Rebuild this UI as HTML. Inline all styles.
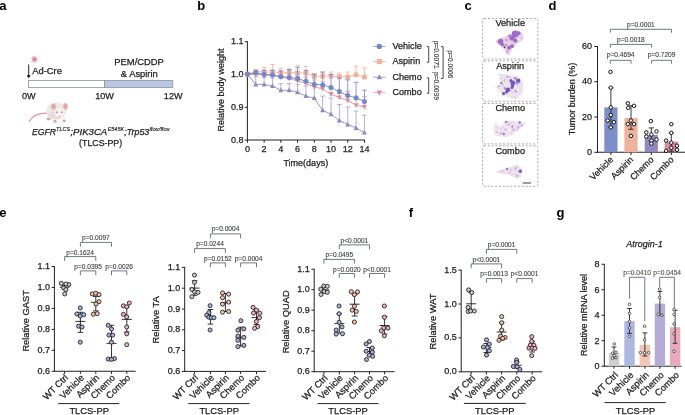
<!DOCTYPE html>
<html><head><meta charset="utf-8"><style>
html,body{margin:0;padding:0;background:#fff;}
body{width:685px;height:415px;overflow:hidden;}
svg{display:block;font-family:"Liberation Sans", sans-serif;will-change:transform;}
</style></head><body>
<svg width="685" height="415" viewBox="0 0 685 415">
<rect width="685" height="415" fill="#fff"/>
<text x="-0.8" y="9.7" font-size="13" text-anchor="start" font-weight="bold" font-style="normal" fill="#000" stroke="#000" stroke-width="0" >a</text>
<text x="197.3" y="9.9" font-size="13" text-anchor="start" font-weight="bold" font-style="normal" fill="#000" stroke="#000" stroke-width="0" >b</text>
<text x="464.4" y="9.8" font-size="13" text-anchor="start" font-weight="bold" font-style="normal" fill="#000" stroke="#000" stroke-width="0" >c</text>
<text x="548.5" y="9.8" font-size="13" text-anchor="start" font-weight="bold" font-style="normal" fill="#000" stroke="#000" stroke-width="0" >d</text>
<text x="-0.8" y="217.0" font-size="13" text-anchor="start" font-weight="bold" font-style="normal" fill="#000" stroke="#000" stroke-width="0" >e</text>
<text x="408.8" y="216.9" font-size="13" text-anchor="start" font-weight="bold" font-style="normal" fill="#000" stroke="#000" stroke-width="0" >f</text>
<text x="556.5" y="216.8" font-size="13" text-anchor="start" font-weight="bold" font-style="normal" fill="#000" stroke="#000" stroke-width="0" >g</text>
<g opacity="0.9">
<line x1="36.46" y1="59.80" x2="37.93" y2="60.10" stroke="#e89098" stroke-width="0.6"/>
<circle cx="38.13" cy="60.14" r="0.45" fill="#eaa0a6"/>
<line x1="35.61" y1="61.07" x2="36.43" y2="62.32" stroke="#e89098" stroke-width="0.6"/>
<circle cx="36.54" cy="62.48" r="0.45" fill="#eaa0a6"/>
<line x1="34.10" y1="61.36" x2="33.80" y2="62.83" stroke="#e89098" stroke-width="0.6"/>
<circle cx="33.76" cy="63.03" r="0.45" fill="#eaa0a6"/>
<line x1="32.83" y1="60.51" x2="31.58" y2="61.33" stroke="#e89098" stroke-width="0.6"/>
<circle cx="31.42" cy="61.44" r="0.45" fill="#eaa0a6"/>
<line x1="32.54" y1="59.00" x2="31.07" y2="58.70" stroke="#e89098" stroke-width="0.6"/>
<circle cx="30.87" cy="58.66" r="0.45" fill="#eaa0a6"/>
<line x1="33.39" y1="57.73" x2="32.57" y2="56.48" stroke="#e89098" stroke-width="0.6"/>
<circle cx="32.46" cy="56.32" r="0.45" fill="#eaa0a6"/>
<line x1="34.90" y1="57.44" x2="35.20" y2="55.97" stroke="#e89098" stroke-width="0.6"/>
<circle cx="35.24" cy="55.77" r="0.45" fill="#eaa0a6"/>
<line x1="36.17" y1="58.29" x2="37.42" y2="57.47" stroke="#e89098" stroke-width="0.6"/>
<circle cx="37.58" cy="57.36" r="0.45" fill="#eaa0a6"/>
<circle cx="34.5" cy="59.4" r="2.3" fill="#e07c84"/>
</g>
<line x1="28.7" y1="64.5" x2="28.7" y2="76" stroke="#111" stroke-width="0.9" />
<polygon points="26.7,75.2 30.7,75.2 28.7,78.2" fill="#111"/>
<text x="32.2" y="74" font-size="9.4" text-anchor="start" font-weight="normal" font-style="normal" fill="#222" stroke="#222" stroke-width="0.25" >Ad-Cre</text>
<rect x="28.5" y="80.5" width="76" height="7" fill="#fff" stroke="#8a949e" stroke-width="0.8"/>
<rect x="104.5" y="80.5" width="68.3" height="7" fill="#bac6e2" stroke="#8a949e" stroke-width="0.8"/>
<text x="139.1" y="64.5" font-size="9.4" text-anchor="middle" font-weight="normal" font-style="normal" fill="#222" stroke="#222" stroke-width="0.25" >PEM/CDDP</text>
<text x="139.3" y="77" font-size="9.4" text-anchor="middle" font-weight="normal" font-style="normal" fill="#222" stroke="#222" stroke-width="0.25" >&amp; Aspirin</text>
<text x="28.7" y="99.2" font-size="9.1" text-anchor="middle" font-weight="normal" font-style="normal" fill="#222" stroke="#222" stroke-width="0.25" >0W</text>
<text x="104.6" y="99.2" font-size="9.1" text-anchor="middle" font-weight="normal" font-style="normal" fill="#222" stroke="#222" stroke-width="0.25" >10W</text>
<text x="173.2" y="99.2" font-size="9.1" text-anchor="middle" font-weight="normal" font-style="normal" fill="#222" stroke="#222" stroke-width="0.25" >12W</text>
<path d="M47.5,113.2 C41,113.4 36,114.5 33.5,116.5 C31.5,118 30.2,119.8 29.4,121.6" fill="none" stroke="#e0989a" stroke-width="1.3" stroke-linecap="round"/>
<ellipse cx="48.6" cy="119" rx="1.9" ry="1.3" fill="#e0a0a0"/>
<ellipse cx="55" cy="121.2" rx="1.6" ry="1.5" fill="#e0a0a0"/>
<ellipse cx="64.3" cy="120.8" rx="1.7" ry="1.4" fill="#e0a0a0"/>
<ellipse cx="56.3" cy="111" rx="10.1" ry="8.6" fill="#ebe7e4"/>
<ellipse cx="55.5" cy="115.5" rx="8.5" ry="3.8" fill="#ddd5d1" opacity="0.6"/>
<ellipse cx="59.6" cy="112.5" rx="5.2" ry="5" fill="#f3f1f0"/>
<ellipse cx="53.5" cy="106.6" rx="2.6" ry="3.4" fill="#e3a4a4" stroke="#eee3e0" stroke-width="0.7"/>
<ellipse cx="65.4" cy="106.4" rx="2.5" ry="3.3" fill="#e3a4a4" stroke="#eee3e0" stroke-width="0.7"/>
<ellipse cx="56.9" cy="112.2" rx="1.1" ry="0.7" fill="#c98080"/>
<ellipse cx="61.9" cy="112.2" rx="1.1" ry="0.7" fill="#c98080"/>
<circle cx="59.3" cy="116.4" r="0.6" fill="#d89090"/>
<text x="32.0" y="134.6" font-size="8.6" font-style="italic" fill="#222" stroke="#222" stroke-width="0.25" textLength="23.9" lengthAdjust="spacingAndGlyphs">EGFR</text>
<text x="56.1" y="131.4" font-size="4.9" font-style="italic" fill="#222" stroke="#222" stroke-width="0.15" textLength="14.2" lengthAdjust="spacingAndGlyphs">TLCS</text>
<text x="70.4" y="134.6" font-size="8.6" font-style="italic" fill="#222" stroke="#222" stroke-width="0.25" textLength="36.9" lengthAdjust="spacingAndGlyphs">;PIK3CA</text>
<text x="107.7" y="131.4" font-size="4.9" font-style="italic" fill="#222" stroke="#222" stroke-width="0.15" textLength="16.4" lengthAdjust="spacingAndGlyphs">E545K</text>
<text x="124.3" y="134.6" font-size="8.6" font-style="italic" fill="#222" stroke="#222" stroke-width="0.25" textLength="25.0" lengthAdjust="spacingAndGlyphs">;Trp53</text>
<text x="149.4" y="131.4" font-size="4.9" font-style="italic" fill="#222" stroke="#222" stroke-width="0.15" textLength="20.4" lengthAdjust="spacingAndGlyphs">flox/flox</text>
<text x="100.6" y="146.0" font-size="8.8" text-anchor="middle" font-weight="normal" font-style="normal" fill="#222" stroke="#222" stroke-width="0.25" >(TLCS-PP)</text>
<line x1="247.4" y1="41.2" x2="247.4" y2="140.5" stroke="#222" stroke-width="1" />
<line x1="247.4" y1="140" x2="364.94" y2="140" stroke="#222" stroke-width="1.1" />
<line x1="244.8" y1="41.699999999999974" x2="247.4" y2="41.699999999999974" stroke="#222" stroke-width="1" />
<text x="243.4" y="44.199999999999974" font-size="9" text-anchor="end" font-weight="normal" font-style="normal" fill="#222" stroke="#222" stroke-width="0.25" >1.1</text>
<line x1="244.8" y1="74.5" x2="247.4" y2="74.5" stroke="#222" stroke-width="1" />
<text x="243.4" y="77.0" font-size="9" text-anchor="end" font-weight="normal" font-style="normal" fill="#222" stroke="#222" stroke-width="0.25" >1.0</text>
<line x1="244.8" y1="107.29999999999998" x2="247.4" y2="107.29999999999998" stroke="#222" stroke-width="1" />
<text x="243.4" y="109.79999999999998" font-size="9" text-anchor="end" font-weight="normal" font-style="normal" fill="#222" stroke="#222" stroke-width="0.25" >0.9</text>
<line x1="244.8" y1="140.09999999999997" x2="247.4" y2="140.09999999999997" stroke="#222" stroke-width="1" />
<text x="243.4" y="142.59999999999997" font-size="9" text-anchor="end" font-weight="normal" font-style="normal" fill="#222" stroke="#222" stroke-width="0.25" >0.8</text>
<line x1="247.4" y1="140" x2="247.4" y2="142.8" stroke="#222" stroke-width="1" />
<text x="247.4" y="151.8" font-size="9" text-anchor="middle" font-weight="normal" font-style="normal" fill="#222" stroke="#222" stroke-width="0.25" >0</text>
<line x1="264.12" y1="140" x2="264.12" y2="142.8" stroke="#222" stroke-width="1" />
<text x="264.12" y="151.8" font-size="9" text-anchor="middle" font-weight="normal" font-style="normal" fill="#222" stroke="#222" stroke-width="0.25" >2</text>
<line x1="280.84000000000003" y1="140" x2="280.84000000000003" y2="142.8" stroke="#222" stroke-width="1" />
<text x="280.84000000000003" y="151.8" font-size="9" text-anchor="middle" font-weight="normal" font-style="normal" fill="#222" stroke="#222" stroke-width="0.25" >4</text>
<line x1="297.56" y1="140" x2="297.56" y2="142.8" stroke="#222" stroke-width="1" />
<text x="297.56" y="151.8" font-size="9" text-anchor="middle" font-weight="normal" font-style="normal" fill="#222" stroke="#222" stroke-width="0.25" >6</text>
<line x1="314.28" y1="140" x2="314.28" y2="142.8" stroke="#222" stroke-width="1" />
<text x="314.28" y="151.8" font-size="9" text-anchor="middle" font-weight="normal" font-style="normal" fill="#222" stroke="#222" stroke-width="0.25" >8</text>
<line x1="331.0" y1="140" x2="331.0" y2="142.8" stroke="#222" stroke-width="1" />
<text x="331.0" y="151.8" font-size="9" text-anchor="middle" font-weight="normal" font-style="normal" fill="#222" stroke="#222" stroke-width="0.25" >10</text>
<line x1="347.72" y1="140" x2="347.72" y2="142.8" stroke="#222" stroke-width="1" />
<text x="347.72" y="151.8" font-size="9" text-anchor="middle" font-weight="normal" font-style="normal" fill="#222" stroke="#222" stroke-width="0.25" >12</text>
<line x1="364.44" y1="140" x2="364.44" y2="142.8" stroke="#222" stroke-width="1" />
<text x="364.44" y="151.8" font-size="9" text-anchor="middle" font-weight="normal" font-style="normal" fill="#222" stroke="#222" stroke-width="0.25" >14</text>
<text x="305.8" y="165.8" font-size="9" text-anchor="middle" font-weight="normal" font-style="normal" fill="#222" stroke="#222" stroke-width="0.25" >Time(days)</text>
<text transform="translate(223.6,89.9) rotate(-90)" font-size="9" text-anchor="middle" font-style="normal" fill="#222" stroke="#222" stroke-width="0.25">Relative body weight</text>
<line x1="255.76" y1="76.7" x2="255.76" y2="84.4" stroke="#aba5d5" stroke-width="0.9" />
<line x1="253.45999999999998" y1="76.7" x2="258.06" y2="76.7" stroke="#aba5d5" stroke-width="0.9" />
<line x1="264.12" y1="77.5" x2="264.12" y2="84.4" stroke="#aba5d5" stroke-width="0.9" />
<line x1="261.82" y1="77.5" x2="266.42" y2="77.5" stroke="#aba5d5" stroke-width="0.9" />
<line x1="272.48" y1="78.10000000000001" x2="272.48" y2="85.9" stroke="#aba5d5" stroke-width="0.9" />
<line x1="270.18" y1="78.10000000000001" x2="274.78000000000003" y2="78.10000000000001" stroke="#aba5d5" stroke-width="0.9" />
<line x1="280.84000000000003" y1="83.6" x2="280.84000000000003" y2="90.3" stroke="#aba5d5" stroke-width="0.9" />
<line x1="278.54" y1="83.6" x2="283.14000000000004" y2="83.6" stroke="#aba5d5" stroke-width="0.9" />
<line x1="289.2" y1="83.6" x2="289.2" y2="90.3" stroke="#aba5d5" stroke-width="0.9" />
<line x1="286.9" y1="83.6" x2="291.5" y2="83.6" stroke="#aba5d5" stroke-width="0.9" />
<line x1="297.56" y1="84.3" x2="297.56" y2="92.3" stroke="#aba5d5" stroke-width="0.9" />
<line x1="295.26" y1="84.3" x2="299.86" y2="84.3" stroke="#aba5d5" stroke-width="0.9" />
<line x1="305.92" y1="86.0" x2="305.92" y2="96.0" stroke="#aba5d5" stroke-width="0.9" />
<line x1="303.62" y1="86.0" x2="308.22" y2="86.0" stroke="#aba5d5" stroke-width="0.9" />
<line x1="314.28" y1="86.1" x2="314.28" y2="98.1" stroke="#aba5d5" stroke-width="0.9" />
<line x1="311.97999999999996" y1="86.1" x2="316.58" y2="86.1" stroke="#aba5d5" stroke-width="0.9" />
<line x1="322.64" y1="96.1" x2="322.64" y2="110.3" stroke="#aba5d5" stroke-width="0.9" />
<line x1="320.34" y1="96.1" x2="324.94" y2="96.1" stroke="#aba5d5" stroke-width="0.9" />
<line x1="331.0" y1="98.2" x2="331.0" y2="114.2" stroke="#aba5d5" stroke-width="0.9" />
<line x1="328.7" y1="98.2" x2="333.3" y2="98.2" stroke="#aba5d5" stroke-width="0.9" />
<line x1="339.36" y1="104.5" x2="339.36" y2="120.5" stroke="#aba5d5" stroke-width="0.9" />
<line x1="337.06" y1="104.5" x2="341.66" y2="104.5" stroke="#aba5d5" stroke-width="0.9" />
<line x1="347.72" y1="107.0" x2="347.72" y2="124.4" stroke="#aba5d5" stroke-width="0.9" />
<line x1="345.42" y1="107.0" x2="350.02000000000004" y2="107.0" stroke="#aba5d5" stroke-width="0.9" />
<line x1="356.08" y1="111.0" x2="356.08" y2="128.0" stroke="#aba5d5" stroke-width="0.9" />
<line x1="353.78" y1="111.0" x2="358.38" y2="111.0" stroke="#aba5d5" stroke-width="0.9" />
<line x1="364.44" y1="115.3" x2="364.44" y2="132.6" stroke="#aba5d5" stroke-width="0.9" />
<line x1="362.14" y1="115.3" x2="366.74" y2="115.3" stroke="#aba5d5" stroke-width="0.9" />
<polyline points="247.40,74.50 255.76,84.40 264.12,84.40 272.48,85.90 280.84,90.30 289.20,90.30 297.56,92.30 305.92,96.00 314.28,98.10 322.64,110.30 331.00,114.20 339.36,120.50 347.72,124.40 356.08,128.00 364.44,132.60" fill="none" stroke="#8f89c3" stroke-width="0.9"/>
<polygon points="244.90,76.50 249.90,76.50 247.40,71.75" fill="#8f89c3"/>
<polygon points="253.26,86.40 258.26,86.40 255.76,81.65" fill="#8f89c3"/>
<polygon points="261.62,86.40 266.62,86.40 264.12,81.65" fill="#8f89c3"/>
<polygon points="269.98,87.90 274.98,87.90 272.48,83.15" fill="#8f89c3"/>
<polygon points="278.34,92.30 283.34,92.30 280.84,87.55" fill="#8f89c3"/>
<polygon points="286.70,92.30 291.70,92.30 289.20,87.55" fill="#8f89c3"/>
<polygon points="295.06,94.30 300.06,94.30 297.56,89.55" fill="#8f89c3"/>
<polygon points="303.42,98.00 308.42,98.00 305.92,93.25" fill="#8f89c3"/>
<polygon points="311.78,100.10 316.78,100.10 314.28,95.35" fill="#8f89c3"/>
<polygon points="320.14,112.30 325.14,112.30 322.64,107.55" fill="#8f89c3"/>
<polygon points="328.50,116.20 333.50,116.20 331.00,111.45" fill="#8f89c3"/>
<polygon points="336.86,122.50 341.86,122.50 339.36,117.75" fill="#8f89c3"/>
<polygon points="345.22,126.40 350.22,126.40 347.72,121.65" fill="#8f89c3"/>
<polygon points="353.58,130.00 358.58,130.00 356.08,125.25" fill="#8f89c3"/>
<polygon points="361.94,134.60 366.94,134.60 364.44,129.85" fill="#8f89c3"/>
<line x1="255.76" y1="70.0" x2="255.76" y2="71.5" stroke="#f1b7a0" stroke-width="0.9" />
<line x1="253.45999999999998" y1="70.0" x2="258.06" y2="70.0" stroke="#f1b7a0" stroke-width="0.9" />
<line x1="264.12" y1="67.4" x2="264.12" y2="72.0" stroke="#f1b7a0" stroke-width="0.9" />
<line x1="261.82" y1="67.4" x2="266.42" y2="67.4" stroke="#f1b7a0" stroke-width="0.9" />
<line x1="272.48" y1="64.4" x2="272.48" y2="71.9" stroke="#f1b7a0" stroke-width="0.9" />
<line x1="270.18" y1="64.4" x2="274.78000000000003" y2="64.4" stroke="#f1b7a0" stroke-width="0.9" />
<line x1="280.84000000000003" y1="68.3" x2="280.84000000000003" y2="72.8" stroke="#f1b7a0" stroke-width="0.9" />
<line x1="278.54" y1="68.3" x2="283.14000000000004" y2="68.3" stroke="#f1b7a0" stroke-width="0.9" />
<line x1="289.2" y1="68.9" x2="289.2" y2="72.5" stroke="#f1b7a0" stroke-width="0.9" />
<line x1="286.9" y1="68.9" x2="291.5" y2="68.9" stroke="#f1b7a0" stroke-width="0.9" />
<line x1="297.56" y1="65.6" x2="297.56" y2="72.8" stroke="#f1b7a0" stroke-width="0.9" />
<line x1="295.26" y1="65.6" x2="299.86" y2="65.6" stroke="#f1b7a0" stroke-width="0.9" />
<line x1="305.92" y1="66.4" x2="305.92" y2="73.0" stroke="#f1b7a0" stroke-width="0.9" />
<line x1="303.62" y1="66.4" x2="308.22" y2="66.4" stroke="#f1b7a0" stroke-width="0.9" />
<line x1="314.28" y1="73.4" x2="314.28" y2="76.4" stroke="#f1b7a0" stroke-width="0.9" />
<line x1="311.97999999999996" y1="73.4" x2="316.58" y2="73.4" stroke="#f1b7a0" stroke-width="0.9" />
<line x1="322.64" y1="72.2" x2="322.64" y2="76.2" stroke="#f1b7a0" stroke-width="0.9" />
<line x1="320.34" y1="72.2" x2="324.94" y2="72.2" stroke="#f1b7a0" stroke-width="0.9" />
<line x1="331.0" y1="72.0" x2="331.0" y2="76.2" stroke="#f1b7a0" stroke-width="0.9" />
<line x1="328.7" y1="72.0" x2="333.3" y2="72.0" stroke="#f1b7a0" stroke-width="0.9" />
<line x1="339.36" y1="73.0" x2="339.36" y2="76.7" stroke="#f1b7a0" stroke-width="0.9" />
<line x1="337.06" y1="73.0" x2="341.66" y2="73.0" stroke="#f1b7a0" stroke-width="0.9" />
<line x1="347.72" y1="72.0" x2="347.72" y2="77.1" stroke="#f1b7a0" stroke-width="0.9" />
<line x1="345.42" y1="72.0" x2="350.02000000000004" y2="72.0" stroke="#f1b7a0" stroke-width="0.9" />
<line x1="356.08" y1="66.0" x2="356.08" y2="74.9" stroke="#f1b7a0" stroke-width="0.9" />
<line x1="353.78" y1="66.0" x2="358.38" y2="66.0" stroke="#f1b7a0" stroke-width="0.9" />
<line x1="364.44" y1="67.8" x2="364.44" y2="77.1" stroke="#f1b7a0" stroke-width="0.9" />
<line x1="362.14" y1="67.8" x2="366.74" y2="67.8" stroke="#f1b7a0" stroke-width="0.9" />
<polyline points="247.40,74.30 255.76,71.50 264.12,72.00 272.48,71.90 280.84,72.80 289.20,72.50 297.56,72.80 305.92,73.00 314.28,76.40 322.64,76.20 331.00,76.20 339.36,76.70 347.72,77.10 356.08,74.90 364.44,77.10" fill="none" stroke="#f0b29c" stroke-width="0.9"/>
<rect x="245.00" y="71.90" width="4.8" height="4.8" fill="#f0b29c"/>
<rect x="253.36" y="69.10" width="4.8" height="4.8" fill="#f0b29c"/>
<rect x="261.72" y="69.60" width="4.8" height="4.8" fill="#f0b29c"/>
<rect x="270.08" y="69.50" width="4.8" height="4.8" fill="#f0b29c"/>
<rect x="278.44" y="70.40" width="4.8" height="4.8" fill="#f0b29c"/>
<rect x="286.80" y="70.10" width="4.8" height="4.8" fill="#f0b29c"/>
<rect x="295.16" y="70.40" width="4.8" height="4.8" fill="#f0b29c"/>
<rect x="303.52" y="70.60" width="4.8" height="4.8" fill="#f0b29c"/>
<rect x="311.88" y="74.00" width="4.8" height="4.8" fill="#f0b29c"/>
<rect x="320.24" y="73.80" width="4.8" height="4.8" fill="#f0b29c"/>
<rect x="328.60" y="73.80" width="4.8" height="4.8" fill="#f0b29c"/>
<rect x="336.96" y="74.30" width="4.8" height="4.8" fill="#f0b29c"/>
<rect x="345.32" y="74.70" width="4.8" height="4.8" fill="#f0b29c"/>
<rect x="353.68" y="72.50" width="4.8" height="4.8" fill="#f0b29c"/>
<rect x="362.04" y="74.70" width="4.8" height="4.8" fill="#f0b29c"/>
<line x1="255.76" y1="72.9" x2="255.76" y2="74.4" stroke="#e8a4b3" stroke-width="0.9" />
<line x1="253.45999999999998" y1="72.9" x2="258.06" y2="72.9" stroke="#e8a4b3" stroke-width="0.9" />
<line x1="264.12" y1="72.8" x2="264.12" y2="74.8" stroke="#e8a4b3" stroke-width="0.9" />
<line x1="261.82" y1="72.8" x2="266.42" y2="72.8" stroke="#e8a4b3" stroke-width="0.9" />
<line x1="272.48" y1="73.0" x2="272.48" y2="75.5" stroke="#e8a4b3" stroke-width="0.9" />
<line x1="270.18" y1="73.0" x2="274.78000000000003" y2="73.0" stroke="#e8a4b3" stroke-width="0.9" />
<line x1="280.84000000000003" y1="74.0" x2="280.84000000000003" y2="77.0" stroke="#e8a4b3" stroke-width="0.9" />
<line x1="278.54" y1="74.0" x2="283.14000000000004" y2="74.0" stroke="#e8a4b3" stroke-width="0.9" />
<line x1="289.2" y1="74.5" x2="289.2" y2="78.5" stroke="#e8a4b3" stroke-width="0.9" />
<line x1="286.9" y1="74.5" x2="291.5" y2="74.5" stroke="#e8a4b3" stroke-width="0.9" />
<line x1="297.56" y1="75.9" x2="297.56" y2="80.9" stroke="#e8a4b3" stroke-width="0.9" />
<line x1="295.26" y1="75.9" x2="299.86" y2="75.9" stroke="#e8a4b3" stroke-width="0.9" />
<line x1="305.92" y1="77.3" x2="305.92" y2="83.3" stroke="#e8a4b3" stroke-width="0.9" />
<line x1="303.62" y1="77.3" x2="308.22" y2="77.3" stroke="#e8a4b3" stroke-width="0.9" />
<line x1="314.28" y1="80.0" x2="314.28" y2="87.0" stroke="#e8a4b3" stroke-width="0.9" />
<line x1="311.97999999999996" y1="80.0" x2="316.58" y2="80.0" stroke="#e8a4b3" stroke-width="0.9" />
<line x1="322.64" y1="81.8" x2="322.64" y2="88.8" stroke="#e8a4b3" stroke-width="0.9" />
<line x1="320.34" y1="81.8" x2="324.94" y2="81.8" stroke="#e8a4b3" stroke-width="0.9" />
<line x1="331.0" y1="86.8" x2="331.0" y2="94.3" stroke="#e8a4b3" stroke-width="0.9" />
<line x1="328.7" y1="86.8" x2="333.3" y2="86.8" stroke="#e8a4b3" stroke-width="0.9" />
<line x1="339.36" y1="89.7" x2="339.36" y2="97.5" stroke="#e8a4b3" stroke-width="0.9" />
<line x1="337.06" y1="89.7" x2="341.66" y2="89.7" stroke="#e8a4b3" stroke-width="0.9" />
<line x1="347.72" y1="91.60000000000001" x2="347.72" y2="100.4" stroke="#e8a4b3" stroke-width="0.9" />
<line x1="345.42" y1="91.60000000000001" x2="350.02000000000004" y2="91.60000000000001" stroke="#e8a4b3" stroke-width="0.9" />
<line x1="356.08" y1="96.2" x2="356.08" y2="105.2" stroke="#e8a4b3" stroke-width="0.9" />
<line x1="353.78" y1="96.2" x2="358.38" y2="96.2" stroke="#e8a4b3" stroke-width="0.9" />
<line x1="364.44" y1="96.7" x2="364.44" y2="107.0" stroke="#e8a4b3" stroke-width="0.9" />
<line x1="362.14" y1="96.7" x2="366.74" y2="96.7" stroke="#e8a4b3" stroke-width="0.9" />
<polyline points="247.40,74.50 255.76,74.40 264.12,74.80 272.48,75.50 280.84,77.00 289.20,78.50 297.56,80.90 305.92,83.30 314.28,87.00 322.64,88.80 331.00,94.30 339.36,97.50 347.72,100.40 356.08,105.20 364.44,107.00" fill="none" stroke="#dd8c9e" stroke-width="0.9"/>
<polygon points="244.90,72.50 249.90,72.50 247.40,77.25" fill="#dd8c9e"/>
<polygon points="253.26,72.40 258.26,72.40 255.76,77.15" fill="#dd8c9e"/>
<polygon points="261.62,72.80 266.62,72.80 264.12,77.55" fill="#dd8c9e"/>
<polygon points="269.98,73.50 274.98,73.50 272.48,78.25" fill="#dd8c9e"/>
<polygon points="278.34,75.00 283.34,75.00 280.84,79.75" fill="#dd8c9e"/>
<polygon points="286.70,76.50 291.70,76.50 289.20,81.25" fill="#dd8c9e"/>
<polygon points="295.06,78.90 300.06,78.90 297.56,83.65" fill="#dd8c9e"/>
<polygon points="303.42,81.30 308.42,81.30 305.92,86.05" fill="#dd8c9e"/>
<polygon points="311.78,85.00 316.78,85.00 314.28,89.75" fill="#dd8c9e"/>
<polygon points="320.14,86.80 325.14,86.80 322.64,91.55" fill="#dd8c9e"/>
<polygon points="328.50,92.30 333.50,92.30 331.00,97.05" fill="#dd8c9e"/>
<polygon points="336.86,95.50 341.86,95.50 339.36,100.25" fill="#dd8c9e"/>
<polygon points="345.22,98.40 350.22,98.40 347.72,103.15" fill="#dd8c9e"/>
<polygon points="353.58,103.20 358.58,103.20 356.08,107.95" fill="#dd8c9e"/>
<polygon points="361.94,105.00 366.94,105.00 364.44,109.75" fill="#dd8c9e"/>
<line x1="255.76" y1="70.8" x2="255.76" y2="72.8" stroke="#7d8dc9" stroke-width="0.9" />
<line x1="253.45999999999998" y1="70.8" x2="258.06" y2="70.8" stroke="#7d8dc9" stroke-width="0.9" />
<line x1="264.12" y1="70.30000000000001" x2="264.12" y2="74.4" stroke="#7d8dc9" stroke-width="0.9" />
<line x1="261.82" y1="70.30000000000001" x2="266.42" y2="70.30000000000001" stroke="#7d8dc9" stroke-width="0.9" />
<line x1="272.48" y1="70.30000000000001" x2="272.48" y2="74.9" stroke="#7d8dc9" stroke-width="0.9" />
<line x1="270.18" y1="70.30000000000001" x2="274.78000000000003" y2="70.30000000000001" stroke="#7d8dc9" stroke-width="0.9" />
<line x1="280.84000000000003" y1="71.0" x2="280.84000000000003" y2="76.7" stroke="#7d8dc9" stroke-width="0.9" />
<line x1="278.54" y1="71.0" x2="283.14000000000004" y2="71.0" stroke="#7d8dc9" stroke-width="0.9" />
<line x1="289.2" y1="69.5" x2="289.2" y2="77.5" stroke="#7d8dc9" stroke-width="0.9" />
<line x1="286.9" y1="69.5" x2="291.5" y2="69.5" stroke="#7d8dc9" stroke-width="0.9" />
<line x1="297.56" y1="67.4" x2="297.56" y2="78.5" stroke="#7d8dc9" stroke-width="0.9" />
<line x1="295.26" y1="67.4" x2="299.86" y2="67.4" stroke="#7d8dc9" stroke-width="0.9" />
<line x1="305.92" y1="70.39999999999999" x2="305.92" y2="81.3" stroke="#7d8dc9" stroke-width="0.9" />
<line x1="303.62" y1="70.39999999999999" x2="308.22" y2="70.39999999999999" stroke="#7d8dc9" stroke-width="0.9" />
<line x1="314.28" y1="74.3" x2="314.28" y2="84.3" stroke="#7d8dc9" stroke-width="0.9" />
<line x1="311.97999999999996" y1="74.3" x2="316.58" y2="74.3" stroke="#7d8dc9" stroke-width="0.9" />
<line x1="322.64" y1="72.0" x2="322.64" y2="84.9" stroke="#7d8dc9" stroke-width="0.9" />
<line x1="320.34" y1="72.0" x2="324.94" y2="72.0" stroke="#7d8dc9" stroke-width="0.9" />
<line x1="331.0" y1="74.5" x2="331.0" y2="87.5" stroke="#7d8dc9" stroke-width="0.9" />
<line x1="328.7" y1="74.5" x2="333.3" y2="74.5" stroke="#7d8dc9" stroke-width="0.9" />
<line x1="339.36" y1="78.0" x2="339.36" y2="91.8" stroke="#7d8dc9" stroke-width="0.9" />
<line x1="337.06" y1="78.0" x2="341.66" y2="78.0" stroke="#7d8dc9" stroke-width="0.9" />
<line x1="347.72" y1="79.9" x2="347.72" y2="95.5" stroke="#7d8dc9" stroke-width="0.9" />
<line x1="345.42" y1="79.9" x2="350.02000000000004" y2="79.9" stroke="#7d8dc9" stroke-width="0.9" />
<line x1="356.08" y1="82.30000000000001" x2="356.08" y2="97.9" stroke="#7d8dc9" stroke-width="0.9" />
<line x1="353.78" y1="82.30000000000001" x2="358.38" y2="82.30000000000001" stroke="#7d8dc9" stroke-width="0.9" />
<line x1="364.44" y1="90.1" x2="364.44" y2="101.6" stroke="#7d8dc9" stroke-width="0.9" />
<line x1="362.14" y1="90.1" x2="366.74" y2="90.1" stroke="#7d8dc9" stroke-width="0.9" />
<polyline points="247.40,74.00 255.76,72.80 264.12,74.40 272.48,74.90 280.84,76.70 289.20,77.50 297.56,78.50 305.92,81.30 314.28,84.30 322.64,84.90 331.00,87.50 339.36,91.80 347.72,95.50 356.08,97.90 364.44,101.60" fill="none" stroke="#7486c6" stroke-width="0.9"/>
<circle cx="247.40" cy="74.00" r="2.5" fill="#7486c6"/>
<circle cx="255.76" cy="72.80" r="2.5" fill="#7486c6"/>
<circle cx="264.12" cy="74.40" r="2.5" fill="#7486c6"/>
<circle cx="272.48" cy="74.90" r="2.5" fill="#7486c6"/>
<circle cx="280.84" cy="76.70" r="2.5" fill="#7486c6"/>
<circle cx="289.20" cy="77.50" r="2.5" fill="#7486c6"/>
<circle cx="297.56" cy="78.50" r="2.5" fill="#7486c6"/>
<circle cx="305.92" cy="81.30" r="2.5" fill="#7486c6"/>
<circle cx="314.28" cy="84.30" r="2.5" fill="#7486c6"/>
<circle cx="322.64" cy="84.90" r="2.5" fill="#7486c6"/>
<circle cx="331.00" cy="87.50" r="2.5" fill="#7486c6"/>
<circle cx="339.36" cy="91.80" r="2.5" fill="#7486c6"/>
<circle cx="347.72" cy="95.50" r="2.5" fill="#7486c6"/>
<circle cx="356.08" cy="97.90" r="2.5" fill="#7486c6"/>
<circle cx="364.44" cy="101.60" r="2.5" fill="#7486c6"/>
<line x1="372.9" y1="46.4" x2="385.6" y2="46.4" stroke="#9aa6d8" stroke-width="1.0" />
<circle cx="379.30" cy="46.40" r="2.6" fill="#7486c6"/>
<text x="392.4" y="49.0" font-size="9.1" text-anchor="start" font-weight="normal" font-style="normal" fill="#222" stroke="#222" stroke-width="0.25" >Vehicle</text>
<line x1="372.9" y1="61.5" x2="385.6" y2="61.5" stroke="#f2c0ac" stroke-width="1.0" />
<rect x="376.70" y="58.90" width="5.2" height="5.2" fill="#f0b29c"/>
<text x="392.4" y="64.1" font-size="9.1" text-anchor="start" font-weight="normal" font-style="normal" fill="#222" stroke="#222" stroke-width="0.25" >Aspirin</text>
<line x1="372.9" y1="77.2" x2="385.6" y2="77.2" stroke="#aaa4d6" stroke-width="1.0" />
<polygon points="376.60,79.36 382.00,79.36 379.30,74.23" fill="#8f89c3"/>
<text x="392.4" y="79.8" font-size="9.1" text-anchor="start" font-weight="normal" font-style="normal" fill="#222" stroke="#222" stroke-width="0.25" >Chemo</text>
<line x1="372.9" y1="92.7" x2="385.6" y2="92.7" stroke="#ecb0bf" stroke-width="1.0" />
<polygon points="376.60,90.54 382.00,90.54 379.30,95.67" fill="#dd8c9e"/>
<text x="392.4" y="95.3" font-size="9.1" text-anchor="start" font-weight="normal" font-style="normal" fill="#222" stroke="#222" stroke-width="0.25" >Combo</text>
<polyline points="426.7,46.6 428.7,46.6 428.7,62.2 426.7,62.2" fill="none" stroke="#333" stroke-width="0.9"/>
<polyline points="441.1,46.6 443.1,46.6 443.1,78.5 441.1,78.5" fill="none" stroke="#333" stroke-width="0.9"/>
<polyline points="426.7,77.9 428.7,77.9 428.7,93.3 426.7,93.3" fill="none" stroke="#333" stroke-width="0.9"/>
<text transform="translate(433.6,54.7) rotate(90)" font-size="6.7" text-anchor="middle" font-style="normal" fill="#333" stroke="#333" stroke-width="0.1">p=0.0071</text>
<text transform="translate(447.6,64.3) rotate(90)" font-size="6.7" text-anchor="middle" font-style="normal" fill="#333" stroke="#333" stroke-width="0.1">p=0.0006</text>
<text transform="translate(433.6,86.0) rotate(90)" font-size="6.7" text-anchor="middle" font-style="normal" fill="#333" stroke="#333" stroke-width="0.1">p=0.0039</text>
<rect x="482.6" y="18.5" width="55.2" height="40.5" rx="1.5" fill="none" stroke="#9a9a9a" stroke-width="0.8" stroke-dasharray="2.2,1.6"/>
<text x="510.2" y="26.0" font-size="9.2" text-anchor="middle" font-weight="normal" font-style="normal" fill="#222" stroke="#222" stroke-width="0.25" >Vehicle</text>
<rect x="482.6" y="60.8" width="55.2" height="40.5" rx="1.5" fill="none" stroke="#9a9a9a" stroke-width="0.8" stroke-dasharray="2.2,1.6"/>
<text x="510.2" y="68.6" font-size="9.2" text-anchor="middle" font-weight="normal" font-style="normal" fill="#222" stroke="#222" stroke-width="0.25" >Aspirin</text>
<rect x="482.6" y="103.4" width="55.2" height="40.5" rx="1.5" fill="none" stroke="#9a9a9a" stroke-width="0.8" stroke-dasharray="2.2,1.6"/>
<text x="510.2" y="111.2" font-size="9.2" text-anchor="middle" font-weight="normal" font-style="normal" fill="#222" stroke="#222" stroke-width="0.25" >Chemo</text>
<rect x="482.6" y="145.8" width="55.2" height="40.5" rx="1.5" fill="none" stroke="#9a9a9a" stroke-width="0.8" stroke-dasharray="2.2,1.6"/>
<text x="510.2" y="153.60000000000002" font-size="9.2" text-anchor="middle" font-weight="normal" font-style="normal" fill="#222" stroke="#222" stroke-width="0.25" >Combo</text>
<defs><filter id="bl" x="-20%" y="-20%" width="140%" height="140%"><feGaussianBlur stdDeviation="0.45"/></filter><filter id="bl2" x="-30%" y="-30%" width="160%" height="160%"><feGaussianBlur stdDeviation="0.6"/></filter></defs>
<g filter="url(#bl)">
<path d="M496.2,41.3 L499.7,38.6 L507.4,35.5 L513.6,32.4 L516.7,30.9 L519.4,31.2 L522.8,33.9 L523.6,38.6 L521.3,40.9 L517.4,43.2 L514.4,46.3 L511.3,50.1 L508.6,55.9 L504.3,49.4 L500.5,45.5 L497.4,43.6 Z" fill="#e8cde6"/>
</g><g filter="url(#bl2)">
<circle cx="502.7" cy="44.5" r="0.52" fill="#b07ccc"/>
<circle cx="509.2" cy="45.4" r="0.62" fill="#d8b8e0"/>
<circle cx="513.7" cy="34.7" r="0.64" fill="#b07ccc"/>
<circle cx="517.5" cy="34.9" r="0.78" fill="#c49ad6"/>
<circle cx="507.0" cy="50.9" r="0.55" fill="#c49ad6"/>
<circle cx="520.3" cy="33.3" r="0.41" fill="#c49ad6"/>
<circle cx="503.3" cy="47.7" r="0.70" fill="#d8b8e0"/>
<circle cx="507.7" cy="51.7" r="0.61" fill="#b07ccc"/>
<circle cx="512.2" cy="45.5" r="0.76" fill="#b07ccc"/>
<circle cx="503.9" cy="46.0" r="0.66" fill="#b07ccc"/>
<circle cx="515.8" cy="36.2" r="0.72" fill="#b07ccc"/>
<circle cx="509.4" cy="46.9" r="0.57" fill="#d8b8e0"/>
<circle cx="518.1" cy="41.2" r="0.42" fill="#d8b8e0"/>
<circle cx="507.9" cy="41.3" r="0.40" fill="#b07ccc"/>
<circle cx="515.9" cy="39.2" r="0.75" fill="#d8b8e0"/>
<circle cx="501.6" cy="41.1" r="0.62" fill="#c49ad6"/>
<circle cx="505.5" cy="39.9" r="0.41" fill="#d8b8e0"/>
<circle cx="506.5" cy="52.6" r="0.52" fill="#b07ccc"/>
<circle cx="514.9" cy="33.5" r="0.79" fill="#b07ccc"/>
<circle cx="503.6" cy="46.8" r="0.67" fill="#d8b8e0"/>
<circle cx="508.2" cy="37.4" r="0.49" fill="#d8b8e0"/>
<circle cx="496.5" cy="41.3" r="0.61" fill="#c49ad6"/>
<circle cx="506.5" cy="45.6" r="0.41" fill="#b07ccc"/>
<circle cx="513.4" cy="42.6" r="0.66" fill="#d8b8e0"/>
<circle cx="512.9" cy="37.9" r="0.57" fill="#b07ccc"/>
<circle cx="515.1" cy="34.0" r="3.4" fill="#9e6cc8"/>
<circle cx="518.5" cy="33.3" r="2.0" fill="#9e6cc8"/>
<circle cx="512.0" cy="38.0" r="2.6" fill="#9e6cc8"/>
<circle cx="515.3" cy="40.6" r="2.1" fill="#9e6cc8"/>
<circle cx="509.7" cy="35.9" r="1.7" fill="#b088d0"/>
<circle cx="500.5" cy="41.6" r="2.8" fill="#9e6cc8"/>
<circle cx="502.3" cy="44.6" r="1.8" fill="#9e6cc8"/>
<circle cx="505.9" cy="45.1" r="1.2" fill="#b088d0"/>
<circle cx="509.0" cy="47.8" r="2.0" fill="#9e6cc8"/>
<circle cx="512.0" cy="46.2" r="1.9" fill="#9e6cc8"/>
<circle cx="506.5" cy="40" r="1.1" fill="#b088d0"/>
<circle cx="518.2" cy="39.2" r="1.2" fill="#fbf6fb"/>
<circle cx="504.6" cy="47.4" r="0.8" fill="#333"/>
</g>
<g filter="url(#bl)">
<path d="M497,72.9 L507.4,74.4 L515.1,76.3 L519.8,77.9 L522.8,82.1 L523.2,89 L522.1,94.4 L519.8,95.2 L518.2,98.3 L511.3,99.1 L505.1,95.2 L501.3,92.9 L496.6,88.3 L495.1,87.5 L500.5,82.9 L499.7,77.5 Z" fill="#efe2ed"/>
</g><g filter="url(#bl2)">
<circle cx="512.6" cy="92.3" r="0.71" fill="#d8c8e4"/>
<circle cx="513.4" cy="86.8" r="0.73" fill="#c8b4dc"/>
<circle cx="513.3" cy="96.5" r="0.40" fill="#b8a0d4"/>
<circle cx="519.5" cy="82.9" r="0.40" fill="#c8b4dc"/>
<circle cx="516.6" cy="77.1" r="0.71" fill="#c8b4dc"/>
<circle cx="512.5" cy="84.6" r="0.41" fill="#c8b4dc"/>
<circle cx="501.0" cy="78.5" r="0.79" fill="#c8b4dc"/>
<circle cx="510.3" cy="90.7" r="0.44" fill="#d8c8e4"/>
<circle cx="502.5" cy="81.6" r="0.72" fill="#d8c8e4"/>
<circle cx="504.6" cy="81.0" r="0.72" fill="#b8a0d4"/>
<circle cx="514.7" cy="77.7" r="0.56" fill="#c8b4dc"/>
<circle cx="517.2" cy="82.5" r="0.61" fill="#c8b4dc"/>
<circle cx="507.8" cy="91.4" r="0.63" fill="#c8b4dc"/>
<circle cx="518.1" cy="85.0" r="0.58" fill="#d8c8e4"/>
<circle cx="502.2" cy="85.0" r="0.62" fill="#b8a0d4"/>
<circle cx="504.7" cy="88.9" r="0.76" fill="#b8a0d4"/>
<circle cx="502.8" cy="91.3" r="0.39" fill="#d8c8e4"/>
<circle cx="504.0" cy="77.5" r="0.39" fill="#c8b4dc"/>
<circle cx="515.4" cy="81.0" r="0.57" fill="#d8c8e4"/>
<circle cx="510.1" cy="83.5" r="0.46" fill="#d8c8e4"/>
<circle cx="504.8" cy="79.5" r="0.64" fill="#c8b4dc"/>
<circle cx="515.7" cy="97.8" r="0.63" fill="#b8a0d4"/>
<circle cx="503.4" cy="84.8" r="0.80" fill="#c8b4dc"/>
<circle cx="522.5" cy="84.8" r="0.57" fill="#d8c8e4"/>
<circle cx="504.0" cy="80.1" r="0.56" fill="#c8b4dc"/>
<circle cx="510.0" cy="77.6" r="0.77" fill="#b8a0d4"/>
<circle cx="500.2" cy="85.8" r="0.58" fill="#d8c8e4"/>
<circle cx="519.5" cy="82.4" r="0.70" fill="#b8a0d4"/>
<circle cx="514.6" cy="90.3" r="0.69" fill="#b8a0d4"/>
<circle cx="510.8" cy="90.4" r="0.73" fill="#b8a0d4"/>
<circle cx="507.8" cy="89.8" r="2.4" fill="#7457bd"/>
<circle cx="506.5" cy="92" r="1.5" fill="#7457bd"/>
<circle cx="512.8" cy="82.9" r="2.4" fill="#7457bd"/>
<circle cx="512.5" cy="85.5" r="1.7" fill="#7457bd"/>
<circle cx="518.2" cy="80.6" r="2.2" fill="#7457bd"/>
<circle cx="517" cy="83" r="1.5" fill="#9a84cc"/>
<circle cx="510.9" cy="80.6" r="1.5" fill="#7457bd"/>
<circle cx="503.6" cy="93.7" r="1.6" fill="#7457bd"/>
<circle cx="501.3" cy="82.9" r="1.2" fill="#9a84cc"/>
<circle cx="512" cy="87.5" r="1.5" fill="#7457bd"/>
<circle cx="515.1" cy="78.3" r="1.2" fill="#9a84cc"/>
<circle cx="507.4" cy="76.7" r="0.9" fill="#9a84cc"/>
<circle cx="515.9" cy="91.4" r="0.9" fill="#9a84cc"/>
<circle cx="504.5" cy="88" r="0.9" fill="#9a84cc"/>
<circle cx="498.5" cy="86.5" r="0.8" fill="#9a84cc"/>
</g>
<g filter="url(#bl)">
<path d="M494.7,123.4 L496.4,123.1 L498.8,126.1 L502.8,126.5 L504.2,121.4 L506.9,120.4 L510.2,120.7 L517,121.8 L519.7,121.4 L526.4,122.4 L523.7,126.1 L518.3,130.2 L513.6,132.9 L510.2,135.6 L506.2,137.6 L500.8,136.3 L495.4,135.6 L493.7,132.2 L493.7,127.5 Z" fill="#f0e2ee"/>
</g><g filter="url(#bl2)">
<circle cx="504.3" cy="123.0" r="0.64" fill="#d4c0e2"/>
<circle cx="520.6" cy="122.0" r="0.61" fill="#e0d0e8"/>
<circle cx="507.4" cy="124.5" r="0.60" fill="#d4c0e2"/>
<circle cx="520.7" cy="122.5" r="0.45" fill="#e0d0e8"/>
<circle cx="512.8" cy="121.5" r="0.61" fill="#d4c0e2"/>
<circle cx="521.8" cy="125.4" r="0.41" fill="#d4c0e2"/>
<circle cx="512.4" cy="130.0" r="0.66" fill="#d4c0e2"/>
<circle cx="512.7" cy="131.4" r="0.52" fill="#e0d0e8"/>
<circle cx="517.0" cy="130.1" r="0.63" fill="#c8b4dc"/>
<circle cx="515.9" cy="127.8" r="0.49" fill="#e0d0e8"/>
<circle cx="519.2" cy="121.8" r="0.49" fill="#c8b4dc"/>
<circle cx="497.6" cy="127.6" r="0.69" fill="#d4c0e2"/>
<circle cx="511.9" cy="134.0" r="0.72" fill="#c8b4dc"/>
<circle cx="516.4" cy="130.6" r="0.61" fill="#c8b4dc"/>
<circle cx="502.5" cy="132.4" r="0.38" fill="#e0d0e8"/>
<circle cx="503.0" cy="127.0" r="0.65" fill="#d4c0e2"/>
<circle cx="513.7" cy="128.9" r="0.45" fill="#c8b4dc"/>
<circle cx="506.5" cy="135.4" r="0.39" fill="#c8b4dc"/>
<circle cx="506.8" cy="125.2" r="0.41" fill="#c8b4dc"/>
<circle cx="522.0" cy="125.2" r="0.54" fill="#c8b4dc"/>
<circle cx="516.0" cy="126.9" r="0.45" fill="#d4c0e2"/>
<circle cx="501.3" cy="128.7" r="0.62" fill="#c8b4dc"/>
<circle cx="511.2" cy="130.9" r="0.49" fill="#d4c0e2"/>
<circle cx="516.3" cy="129.3" r="0.63" fill="#e0d0e8"/>
<circle cx="517.9" cy="128.3" r="0.74" fill="#e0d0e8"/>
<circle cx="519.8" cy="127.1" r="0.53" fill="#d4c0e2"/>
<circle cx="509.4" cy="127.3" r="0.44" fill="#d4c0e2"/>
<circle cx="508.1" cy="122.3" r="0.62" fill="#d4c0e2"/>
<circle cx="497.0" cy="126.7" r="0.36" fill="#d4c0e2"/>
<circle cx="513.8" cy="123.0" r="0.46" fill="#c8b4dc"/>
<circle cx="513.4" cy="128.6" r="0.40" fill="#c8b4dc"/>
<circle cx="509.5" cy="121.9" r="0.40" fill="#c8b4dc"/>
<circle cx="517.9" cy="128.6" r="0.66" fill="#e0d0e8"/>
<circle cx="511.0" cy="122.9" r="0.59" fill="#d4c0e2"/>
<circle cx="518.5" cy="125.5" r="0.64" fill="#d4c0e2"/>
<circle cx="506.2" cy="121.9" r="1.1" fill="#8e74c6"/>
<circle cx="519.7" cy="122.5" r="1.2" fill="#8e74c6"/>
<circle cx="503.8" cy="133.9" r="1.2" fill="#8e74c6"/>
<circle cx="512.3" cy="126.5" r="1.0" fill="#8e74c6"/>
<circle cx="508.9" cy="124.5" r="0.9" fill="#b8a4d8"/>
<circle cx="500.8" cy="133.2" r="1.0" fill="#b8a4d8"/>
<circle cx="521.7" cy="125.5" r="0.9" fill="#b8a4d8"/>
<circle cx="518.3" cy="127.5" r="1.0" fill="#b8a4d8"/>
<circle cx="513.6" cy="129.5" r="0.9" fill="#b8a4d8"/>
<circle cx="496.7" cy="132.2" r="0.8" fill="#b8a4d8"/>
<circle cx="505.5" cy="129.5" r="0.9" fill="#b8a4d8"/>
<circle cx="509.6" cy="129.5" r="0.9" fill="#fbf6fb"/>
</g>
<g filter="url(#bl)">
<path d="M495.4,172.2 L502.2,169.5 L507.6,167.5 L512.3,166.4 L515.7,164.8 L517.7,164.4 L518.4,166.8 L520.4,166.4 L521.7,168.8 L522.4,171.5 L521.1,174.9 L521.7,176.6 L518.4,178.3 L515.7,177.6 L510.3,175.6 L506.9,174.5 L500.1,173.2 Z" fill="#eedfec"/>
</g><g filter="url(#bl2)">
<circle cx="507.9" cy="169.6" r="0.41" fill="#e0d0e8"/>
<circle cx="510.4" cy="173.0" r="0.37" fill="#c8b4dc"/>
<circle cx="521.1" cy="170.3" r="0.43" fill="#d4c0e2"/>
<circle cx="498.4" cy="171.4" r="0.77" fill="#e0d0e8"/>
<circle cx="516.7" cy="176.7" r="0.76" fill="#d4c0e2"/>
<circle cx="513.6" cy="174.5" r="0.54" fill="#d4c0e2"/>
<circle cx="516.3" cy="177.1" r="0.53" fill="#c8b4dc"/>
<circle cx="517.3" cy="167.2" r="0.75" fill="#c8b4dc"/>
<circle cx="498.4" cy="172.7" r="0.40" fill="#e0d0e8"/>
<circle cx="508.9" cy="172.4" r="0.59" fill="#d4c0e2"/>
<circle cx="506.7" cy="169.9" r="0.64" fill="#d4c0e2"/>
<circle cx="514.3" cy="166.4" r="0.77" fill="#e0d0e8"/>
<circle cx="510.4" cy="172.8" r="0.42" fill="#c8b4dc"/>
<circle cx="515.3" cy="172.4" r="0.37" fill="#e0d0e8"/>
<circle cx="499.8" cy="171.4" r="0.68" fill="#e0d0e8"/>
<circle cx="509.5" cy="172.3" r="0.66" fill="#c8b4dc"/>
<circle cx="515.5" cy="169.7" r="0.62" fill="#d4c0e2"/>
<circle cx="507.4" cy="168.9" r="0.39" fill="#e0d0e8"/>
<circle cx="503.1" cy="171.6" r="0.37" fill="#c8b4dc"/>
<circle cx="516.5" cy="175.6" r="0.57" fill="#e0d0e8"/>
<circle cx="516.4" cy="172.3" r="0.38" fill="#e0d0e8"/>
<circle cx="506.2" cy="169.6" r="0.74" fill="#c8b4dc"/>
<circle cx="514.1" cy="176.6" r="0.36" fill="#d4c0e2"/>
<circle cx="516.6" cy="168.5" r="0.36" fill="#c8b4dc"/>
<circle cx="503.1" cy="171.1" r="0.47" fill="#d4c0e2"/>
<circle cx="520.3" cy="171.2" r="1.7" fill="#7c5cc2"/>
<circle cx="507.2" cy="168.8" r="1.1" fill="#8e74c6"/>
<circle cx="517" cy="175.6" r="0.9" fill="#b8a4d8"/>
<circle cx="515.6" cy="168.4" r="0.9" fill="#b8a4d8"/>
<circle cx="511" cy="170" r="0.8" fill="#b8a4d8"/>
<circle cx="502" cy="171" r="0.8" fill="#b8a4d8"/>
<circle cx="513.6" cy="172.2" r="0.8" fill="#fbf6fb"/>
</g>
<line x1="522.7" y1="183" x2="530.9" y2="183" stroke="#8a8a8a" stroke-width="1.7" />
<line x1="597.5" y1="46.2" x2="597.5" y2="152.8" stroke="#222" stroke-width="1" />
<line x1="597.5" y1="152.3" x2="685" y2="152.3" stroke="#222" stroke-width="1.1" />
<line x1="594.2" y1="152.3" x2="597.5" y2="152.3" stroke="#222" stroke-width="1" />
<text x="592.0" y="154.8" font-size="9" text-anchor="end" font-weight="normal" font-style="normal" fill="#222" stroke="#222" stroke-width="0.25" >0</text>
<line x1="594.2" y1="117.034" x2="597.5" y2="117.034" stroke="#222" stroke-width="1" />
<text x="592.0" y="119.534" font-size="9" text-anchor="end" font-weight="normal" font-style="normal" fill="#222" stroke="#222" stroke-width="0.25" >20</text>
<line x1="594.2" y1="81.768" x2="597.5" y2="81.768" stroke="#222" stroke-width="1" />
<text x="592.0" y="84.268" font-size="9" text-anchor="end" font-weight="normal" font-style="normal" fill="#222" stroke="#222" stroke-width="0.25" >40</text>
<line x1="594.2" y1="46.50200000000001" x2="597.5" y2="46.50200000000001" stroke="#222" stroke-width="1" />
<text x="592.0" y="49.00200000000001" font-size="9" text-anchor="end" font-weight="normal" font-style="normal" fill="#222" stroke="#222" stroke-width="0.25" >60</text>
<text transform="translate(575,99) rotate(-90)" font-size="9" text-anchor="middle" font-style="normal" fill="#222" stroke="#222" stroke-width="0.25">Tumor burden (%)</text>
<rect x="604.3" y="107.4" width="13.2" height="44.900000000000006" fill="#7d8fca"/>
<line x1="610.9" y1="152.3" x2="610.9" y2="155" stroke="#222" stroke-width="1" />
<rect x="624.4" y="118.0" width="13.2" height="34.30000000000001" fill="#ecb29c"/>
<line x1="631.0" y1="152.3" x2="631.0" y2="155" stroke="#222" stroke-width="1" />
<rect x="644.6999999999999" y="134.9" width="13.2" height="17.400000000000006" fill="#9089c1"/>
<line x1="651.3" y1="152.3" x2="651.3" y2="155" stroke="#222" stroke-width="1" />
<rect x="664.6999999999999" y="141.6" width="13.2" height="10.700000000000017" fill="#da8a9c"/>
<line x1="671.3" y1="152.3" x2="671.3" y2="155" stroke="#222" stroke-width="1" />
<line x1="610.9" y1="87.7" x2="610.9" y2="127.3" stroke="#222" stroke-width="0.9" />
<line x1="608.3" y1="87.7" x2="613.5" y2="87.7" stroke="#222" stroke-width="0.9" />
<line x1="608.3" y1="127.3" x2="613.5" y2="127.3" stroke="#222" stroke-width="0.9" />
<line x1="631.0" y1="105.8" x2="631.0" y2="129.3" stroke="#222" stroke-width="0.9" />
<line x1="628.4" y1="105.8" x2="633.6" y2="105.8" stroke="#222" stroke-width="0.9" />
<line x1="628.4" y1="129.3" x2="633.6" y2="129.3" stroke="#222" stroke-width="0.9" />
<line x1="651.3" y1="127.9" x2="651.3" y2="140.6" stroke="#222" stroke-width="0.9" />
<line x1="648.6999999999999" y1="127.9" x2="653.9" y2="127.9" stroke="#222" stroke-width="0.9" />
<line x1="648.6999999999999" y1="140.6" x2="653.9" y2="140.6" stroke="#222" stroke-width="0.9" />
<line x1="671.3" y1="132.8" x2="671.3" y2="151.3" stroke="#222" stroke-width="0.9" />
<line x1="668.6999999999999" y1="132.8" x2="673.9" y2="132.8" stroke="#222" stroke-width="0.9" />
<line x1="668.6999999999999" y1="151.3" x2="673.9" y2="151.3" stroke="#222" stroke-width="0.9" />
<circle cx="610.5" cy="71.9" r="1.75" fill="#fff" stroke="#111" stroke-width="1.0"/>
<circle cx="610.8" cy="87.7" r="1.75" fill="#fff" stroke="#111" stroke-width="1.0"/>
<circle cx="610.8" cy="107.4" r="1.75" fill="#fff" stroke="#111" stroke-width="1.0"/>
<circle cx="610.8" cy="115" r="1.75" fill="#fff" stroke="#111" stroke-width="1.0"/>
<circle cx="607.7" cy="120.5" r="1.75" fill="#fff" stroke="#111" stroke-width="1.0"/>
<circle cx="613.9" cy="122.2" r="1.75" fill="#fff" stroke="#111" stroke-width="1.0"/>
<circle cx="610.8" cy="127.3" r="1.75" fill="#fff" stroke="#111" stroke-width="1.0"/>
<circle cx="627.8" cy="103.3" r="1.75" fill="#fff" stroke="#111" stroke-width="1.0"/>
<circle cx="634" cy="105.8" r="1.75" fill="#fff" stroke="#111" stroke-width="1.0"/>
<circle cx="628.2" cy="107.8" r="1.75" fill="#fff" stroke="#111" stroke-width="1.0"/>
<circle cx="630.9" cy="120.5" r="1.75" fill="#fff" stroke="#111" stroke-width="1.0"/>
<circle cx="627.8" cy="124.2" r="1.75" fill="#fff" stroke="#111" stroke-width="1.0"/>
<circle cx="634" cy="124.2" r="1.75" fill="#fff" stroke="#111" stroke-width="1.0"/>
<circle cx="630.9" cy="135.9" r="1.75" fill="#fff" stroke="#111" stroke-width="1.0"/>
<circle cx="650.8" cy="121.1" r="1.75" fill="#fff" stroke="#111" stroke-width="1.0"/>
<circle cx="656.5" cy="131.4" r="1.75" fill="#fff" stroke="#111" stroke-width="1.0"/>
<circle cx="646.3" cy="132.4" r="1.75" fill="#fff" stroke="#111" stroke-width="1.0"/>
<circle cx="651.4" cy="134.5" r="1.75" fill="#fff" stroke="#111" stroke-width="1.0"/>
<circle cx="646.3" cy="136.5" r="1.75" fill="#fff" stroke="#111" stroke-width="1.0"/>
<circle cx="656.5" cy="139.6" r="1.75" fill="#fff" stroke="#111" stroke-width="1.0"/>
<circle cx="651.4" cy="140.6" r="1.75" fill="#fff" stroke="#111" stroke-width="1.0"/>
<circle cx="651.4" cy="143.7" r="1.75" fill="#fff" stroke="#111" stroke-width="1.0"/>
<circle cx="671.3" cy="124.2" r="1.75" fill="#fff" stroke="#111" stroke-width="1.0"/>
<circle cx="671.3" cy="132.8" r="1.75" fill="#fff" stroke="#111" stroke-width="1.0"/>
<circle cx="666.1" cy="140.6" r="1.75" fill="#fff" stroke="#111" stroke-width="1.0"/>
<circle cx="671.3" cy="142.7" r="1.75" fill="#fff" stroke="#111" stroke-width="1.0"/>
<circle cx="677" cy="145.7" r="1.75" fill="#fff" stroke="#111" stroke-width="1.0"/>
<circle cx="671.3" cy="147.8" r="1.75" fill="#fff" stroke="#111" stroke-width="1.0"/>
<circle cx="677" cy="149.8" r="1.75" fill="#fff" stroke="#111" stroke-width="1.0"/>
<circle cx="666.1" cy="150.8" r="1.75" fill="#fff" stroke="#111" stroke-width="1.0"/>
<polyline points="610.3,32.7 610.3,29.3 671.5,29.3 671.5,32.7" fill="none" stroke="#5b6b7b" stroke-width="0.9"/>
<text x="640.9" y="26.6" font-size="6.6" text-anchor="middle" font-weight="normal" font-style="normal" fill="#3a3a3a" stroke="#3a3a3a" stroke-width="0.1" >p=0.0001</text>
<polyline points="610.3,47.8 610.3,44.4 651.6,44.4 651.6,47.8" fill="none" stroke="#5b6b7b" stroke-width="0.9"/>
<text x="630.95" y="41.7" font-size="6.6" text-anchor="middle" font-weight="normal" font-style="normal" fill="#3a3a3a" stroke="#3a3a3a" stroke-width="0.1" >p=0.0018</text>
<polyline points="610.3,63.699999999999996 610.3,60.3 631.0,60.3 631.0,63.699999999999996" fill="none" stroke="#5b6b7b" stroke-width="0.9"/>
<text x="620.65" y="57.1" font-size="6.6" text-anchor="middle" font-weight="normal" font-style="normal" fill="#3a3a3a" stroke="#3a3a3a" stroke-width="0.1" >p=0.4694</text>
<polyline points="651.6,63.699999999999996 651.6,60.3 671.5,60.3 671.5,63.699999999999996" fill="none" stroke="#5b6b7b" stroke-width="0.9"/>
<text x="661.55" y="57.1" font-size="6.6" text-anchor="middle" font-weight="normal" font-style="normal" fill="#3a3a3a" stroke="#3a3a3a" stroke-width="0.1" >p=0.7209</text>
<text transform="translate(613.8,160.3) rotate(-45)" font-size="9" text-anchor="end" font-style="normal" fill="#222" stroke="#222" stroke-width="0.25">Vehicle</text>
<text transform="translate(633.9,160.3) rotate(-45)" font-size="9" text-anchor="end" font-style="normal" fill="#222" stroke="#222" stroke-width="0.25">Aspirin</text>
<text transform="translate(654.1999999999999,160.3) rotate(-45)" font-size="9" text-anchor="end" font-style="normal" fill="#222" stroke="#222" stroke-width="0.25">Chemo</text>
<text transform="translate(674.1999999999999,160.3) rotate(-45)" font-size="9" text-anchor="end" font-style="normal" fill="#222" stroke="#222" stroke-width="0.25">Combo</text>
<line x1="54.4" y1="266.0" x2="54.4" y2="371.75" stroke="#222" stroke-width="1" />
<line x1="54.4" y1="371.25" x2="135.7" y2="371.25" stroke="#222" stroke-width="1" />
<line x1="51.6" y1="266.5" x2="54.4" y2="266.5" stroke="#222" stroke-width="1" />
<text x="49.9" y="269.0" font-size="9" text-anchor="end" font-weight="normal" font-style="normal" fill="#222" stroke="#222" stroke-width="0.25" >1.1</text>
<line x1="51.6" y1="287.45" x2="54.4" y2="287.45" stroke="#222" stroke-width="1" />
<text x="49.9" y="289.95" font-size="9" text-anchor="end" font-weight="normal" font-style="normal" fill="#222" stroke="#222" stroke-width="0.25" >1.0</text>
<line x1="51.6" y1="308.4" x2="54.4" y2="308.4" stroke="#222" stroke-width="1" />
<text x="49.9" y="310.9" font-size="9" text-anchor="end" font-weight="normal" font-style="normal" fill="#222" stroke="#222" stroke-width="0.25" >0.9</text>
<line x1="51.6" y1="329.35" x2="54.4" y2="329.35" stroke="#222" stroke-width="1" />
<text x="49.9" y="331.85" font-size="9" text-anchor="end" font-weight="normal" font-style="normal" fill="#222" stroke="#222" stroke-width="0.25" >0.8</text>
<line x1="51.6" y1="350.3" x2="54.4" y2="350.3" stroke="#222" stroke-width="1" />
<text x="49.9" y="352.8" font-size="9" text-anchor="end" font-weight="normal" font-style="normal" fill="#222" stroke="#222" stroke-width="0.25" >0.7</text>
<line x1="51.6" y1="371.25" x2="54.4" y2="371.25" stroke="#222" stroke-width="1" />
<text x="49.9" y="373.75" font-size="9" text-anchor="end" font-weight="normal" font-style="normal" fill="#222" stroke="#222" stroke-width="0.25" >0.6</text>
<line x1="64.6" y1="371.25" x2="64.6" y2="373.85" stroke="#222" stroke-width="1" />
<line x1="80.4" y1="371.25" x2="80.4" y2="373.85" stroke="#222" stroke-width="1" />
<line x1="95.8" y1="371.25" x2="95.8" y2="373.85" stroke="#222" stroke-width="1" />
<line x1="111.5" y1="371.25" x2="111.5" y2="373.85" stroke="#222" stroke-width="1" />
<line x1="126.8" y1="371.25" x2="126.8" y2="373.85" stroke="#222" stroke-width="1" />
<text transform="translate(28.8,320.875) rotate(-90)" font-size="9.3" text-anchor="middle" font-style="normal" fill="#222" stroke="#222" stroke-width="0.25">Relative GAST</text>
<line x1="64.6" y1="285.5" x2="64.6" y2="289.0" stroke="#111" stroke-width="0.85" />
<line x1="59.599999999999994" y1="287.2" x2="69.6" y2="287.2" stroke="#111" stroke-width="0.85" />
<line x1="61.8" y1="285.5" x2="67.39999999999999" y2="285.5" stroke="#111" stroke-width="0.85" />
<line x1="61.8" y1="289.0" x2="67.39999999999999" y2="289.0" stroke="#111" stroke-width="0.85" />
<line x1="80.4" y1="312.3" x2="80.4" y2="332.4" stroke="#111" stroke-width="0.85" />
<line x1="75.4" y1="321.4" x2="85.4" y2="321.4" stroke="#111" stroke-width="0.85" />
<line x1="77.60000000000001" y1="312.3" x2="83.2" y2="312.3" stroke="#111" stroke-width="0.85" />
<line x1="77.60000000000001" y1="332.4" x2="83.2" y2="332.4" stroke="#111" stroke-width="0.85" />
<line x1="95.8" y1="296.4" x2="95.8" y2="310.9" stroke="#111" stroke-width="0.85" />
<line x1="90.8" y1="302.3" x2="100.8" y2="302.3" stroke="#111" stroke-width="0.85" />
<line x1="93.0" y1="296.4" x2="98.6" y2="296.4" stroke="#111" stroke-width="0.85" />
<line x1="93.0" y1="310.9" x2="98.6" y2="310.9" stroke="#111" stroke-width="0.85" />
<line x1="111.5" y1="325.3" x2="111.5" y2="358.2" stroke="#111" stroke-width="0.85" />
<line x1="106.5" y1="343.4" x2="116.5" y2="343.4" stroke="#111" stroke-width="0.85" />
<line x1="108.7" y1="325.3" x2="114.3" y2="325.3" stroke="#111" stroke-width="0.85" />
<line x1="108.7" y1="358.2" x2="114.3" y2="358.2" stroke="#111" stroke-width="0.85" />
<line x1="126.8" y1="306.8" x2="126.8" y2="332.0" stroke="#111" stroke-width="0.85" />
<line x1="121.8" y1="319.4" x2="131.8" y2="319.4" stroke="#111" stroke-width="0.85" />
<line x1="124.0" y1="306.8" x2="129.6" y2="306.8" stroke="#111" stroke-width="0.85" />
<line x1="124.0" y1="332.0" x2="129.6" y2="332.0" stroke="#111" stroke-width="0.85" />
<circle cx="68.80" cy="284.50" r="2.05" fill="#c9c9c9" stroke="#111" stroke-width="0.8"/>
<circle cx="61.30" cy="283.30" r="2.05" fill="#c9c9c9" stroke="#111" stroke-width="0.8"/>
<circle cx="65.90" cy="284.00" r="2.05" fill="#c9c9c9" stroke="#111" stroke-width="0.8"/>
<circle cx="63.70" cy="287.90" r="2.05" fill="#c9c9c9" stroke="#111" stroke-width="0.8"/>
<circle cx="65.90" cy="289.60" r="2.05" fill="#c9c9c9" stroke="#111" stroke-width="0.8"/>
<circle cx="64.70" cy="293.90" r="2.05" fill="#c9c9c9" stroke="#111" stroke-width="0.8"/>
<circle cx="80.30" cy="307.90" r="2.05" fill="#a7b3e0" stroke="#111" stroke-width="0.8"/>
<circle cx="76.90" cy="314.00" r="2.05" fill="#a7b3e0" stroke="#111" stroke-width="0.8"/>
<circle cx="80.30" cy="316.00" r="2.05" fill="#a7b3e0" stroke="#111" stroke-width="0.8"/>
<circle cx="83.70" cy="314.70" r="2.05" fill="#a7b3e0" stroke="#111" stroke-width="0.8"/>
<circle cx="78.60" cy="326.20" r="2.05" fill="#a7b3e0" stroke="#111" stroke-width="0.8"/>
<circle cx="82.00" cy="327.00" r="2.05" fill="#a7b3e0" stroke="#111" stroke-width="0.8"/>
<circle cx="80.30" cy="342.20" r="2.05" fill="#a7b3e0" stroke="#111" stroke-width="0.8"/>
<circle cx="92.30" cy="293.90" r="2.05" fill="#f4c0aa" stroke="#111" stroke-width="0.8"/>
<circle cx="95.70" cy="293.30" r="2.05" fill="#f4c0aa" stroke="#111" stroke-width="0.8"/>
<circle cx="99.00" cy="294.60" r="2.05" fill="#f4c0aa" stroke="#111" stroke-width="0.8"/>
<circle cx="99.00" cy="301.70" r="2.05" fill="#f4c0aa" stroke="#111" stroke-width="0.8"/>
<circle cx="96.00" cy="303.90" r="2.05" fill="#f4c0aa" stroke="#111" stroke-width="0.8"/>
<circle cx="93.30" cy="314.20" r="2.05" fill="#f4c0aa" stroke="#111" stroke-width="0.8"/>
<circle cx="97.20" cy="313.60" r="2.05" fill="#f4c0aa" stroke="#111" stroke-width="0.8"/>
<circle cx="108.20" cy="325.30" r="2.05" fill="#b1abd9" stroke="#111" stroke-width="0.8"/>
<circle cx="111.50" cy="329.00" r="2.05" fill="#b1abd9" stroke="#111" stroke-width="0.8"/>
<circle cx="109.00" cy="335.10" r="2.05" fill="#b1abd9" stroke="#111" stroke-width="0.8"/>
<circle cx="112.70" cy="335.10" r="2.05" fill="#b1abd9" stroke="#111" stroke-width="0.8"/>
<circle cx="111.50" cy="342.20" r="2.05" fill="#b1abd9" stroke="#111" stroke-width="0.8"/>
<circle cx="108.20" cy="359.10" r="2.05" fill="#b1abd9" stroke="#111" stroke-width="0.8"/>
<circle cx="114.40" cy="358.60" r="2.05" fill="#b1abd9" stroke="#111" stroke-width="0.8"/>
<circle cx="111.50" cy="359.40" r="2.05" fill="#b1abd9" stroke="#111" stroke-width="0.8"/>
<circle cx="129.30" cy="303.00" r="2.05" fill="#f1b0bd" stroke="#111" stroke-width="0.8"/>
<circle cx="123.40" cy="305.90" r="2.05" fill="#f1b0bd" stroke="#111" stroke-width="0.8"/>
<circle cx="126.70" cy="306.80" r="2.05" fill="#f1b0bd" stroke="#111" stroke-width="0.8"/>
<circle cx="123.40" cy="314.30" r="2.05" fill="#f1b0bd" stroke="#111" stroke-width="0.8"/>
<circle cx="126.70" cy="316.90" r="2.05" fill="#f1b0bd" stroke="#111" stroke-width="0.8"/>
<circle cx="126.70" cy="327.00" r="2.05" fill="#f1b0bd" stroke="#111" stroke-width="0.8"/>
<circle cx="126.70" cy="333.80" r="2.05" fill="#f1b0bd" stroke="#111" stroke-width="0.8"/>
<circle cx="126.70" cy="344.70" r="2.05" fill="#f1b0bd" stroke="#111" stroke-width="0.8"/>
<polyline points="80.4,246.70000000000002 80.4,242.4 111.5,242.4 111.5,246.70000000000002" fill="none" stroke="#5b6b7b" stroke-width="0.9"/>
<text x="95.95" y="239.9" font-size="6.6" text-anchor="middle" font-weight="normal" font-style="normal" fill="#3a3a3a" stroke="#3a3a3a" stroke-width="0.1" >p=0.0097</text>
<polyline points="64.6,260.90000000000003 64.6,256.6 95.8,256.6 95.8,260.90000000000003" fill="none" stroke="#5b6b7b" stroke-width="0.9"/>
<text x="80.19999999999999" y="254.8" font-size="6.6" text-anchor="middle" font-weight="normal" font-style="normal" fill="#3a3a3a" stroke="#3a3a3a" stroke-width="0.1" >p=0.1624</text>
<polyline points="80.4,275.2 80.4,270.9 95.8,270.9 95.8,275.2" fill="none" stroke="#5b6b7b" stroke-width="0.9"/>
<text x="88.1" y="269.0" font-size="6.6" text-anchor="middle" font-weight="normal" font-style="normal" fill="#3a3a3a" stroke="#3a3a3a" stroke-width="0.1" >p=0.0395</text>
<polyline points="111.5,275.2 111.5,270.9 126.8,270.9 126.8,275.2" fill="none" stroke="#5b6b7b" stroke-width="0.9"/>
<text x="119.15" y="269.0" font-size="6.6" text-anchor="middle" font-weight="normal" font-style="normal" fill="#3a3a3a" stroke="#3a3a3a" stroke-width="0.1" >p=0.0026</text>
<text transform="translate(68.8,378.25) rotate(-45)" font-size="9.3" text-anchor="end" font-style="normal" fill="#222" stroke="#222" stroke-width="0.25">WT Ctrl</text>
<text transform="translate(84.60000000000001,378.25) rotate(-45)" font-size="9.3" text-anchor="end" font-style="normal" fill="#222" stroke="#222" stroke-width="0.25">Vehicle</text>
<text transform="translate(100.0,378.25) rotate(-45)" font-size="9.3" text-anchor="end" font-style="normal" fill="#222" stroke="#222" stroke-width="0.25">Aspirin</text>
<text transform="translate(115.7,378.25) rotate(-45)" font-size="9.3" text-anchor="end" font-style="normal" fill="#222" stroke="#222" stroke-width="0.25">Chemo</text>
<text transform="translate(131.0,378.25) rotate(-45)" font-size="9.3" text-anchor="end" font-style="normal" fill="#222" stroke="#222" stroke-width="0.25">Combo</text>
<line x1="58.3" y1="403.6" x2="119.4" y2="403.6" stroke="#222" stroke-width="1" />
<text x="89.2" y="414.2" font-size="9.4" text-anchor="middle" font-weight="normal" font-style="normal" fill="#222" stroke="#222" stroke-width="0.25" >TLCS-PP</text>
<line x1="184.7" y1="266.9" x2="184.7" y2="371.9" stroke="#222" stroke-width="1" />
<line x1="184.7" y1="371.4" x2="266.0" y2="371.4" stroke="#222" stroke-width="1" />
<line x1="181.89999999999998" y1="267.4" x2="184.7" y2="267.4" stroke="#222" stroke-width="1" />
<text x="180.2" y="269.9" font-size="9" text-anchor="end" font-weight="normal" font-style="normal" fill="#222" stroke="#222" stroke-width="0.25" >1.1</text>
<line x1="181.89999999999998" y1="288.2" x2="184.7" y2="288.2" stroke="#222" stroke-width="1" />
<text x="180.2" y="290.7" font-size="9" text-anchor="end" font-weight="normal" font-style="normal" fill="#222" stroke="#222" stroke-width="0.25" >1.0</text>
<line x1="181.89999999999998" y1="309.0" x2="184.7" y2="309.0" stroke="#222" stroke-width="1" />
<text x="180.2" y="311.5" font-size="9" text-anchor="end" font-weight="normal" font-style="normal" fill="#222" stroke="#222" stroke-width="0.25" >0.9</text>
<line x1="181.89999999999998" y1="329.79999999999995" x2="184.7" y2="329.79999999999995" stroke="#222" stroke-width="1" />
<text x="180.2" y="332.29999999999995" font-size="9" text-anchor="end" font-weight="normal" font-style="normal" fill="#222" stroke="#222" stroke-width="0.25" >0.8</text>
<line x1="181.89999999999998" y1="350.59999999999997" x2="184.7" y2="350.59999999999997" stroke="#222" stroke-width="1" />
<text x="180.2" y="353.09999999999997" font-size="9" text-anchor="end" font-weight="normal" font-style="normal" fill="#222" stroke="#222" stroke-width="0.25" >0.7</text>
<line x1="181.89999999999998" y1="371.4" x2="184.7" y2="371.4" stroke="#222" stroke-width="1" />
<text x="180.2" y="373.9" font-size="9" text-anchor="end" font-weight="normal" font-style="normal" fill="#222" stroke="#222" stroke-width="0.25" >0.6</text>
<line x1="194.6" y1="371.4" x2="194.6" y2="374.0" stroke="#222" stroke-width="1" />
<line x1="210.4" y1="371.4" x2="210.4" y2="374.0" stroke="#222" stroke-width="1" />
<line x1="225.4" y1="371.4" x2="225.4" y2="374.0" stroke="#222" stroke-width="1" />
<line x1="240.6" y1="371.4" x2="240.6" y2="374.0" stroke="#222" stroke-width="1" />
<line x1="256.5" y1="371.4" x2="256.5" y2="374.0" stroke="#222" stroke-width="1" />
<text transform="translate(159.3,319.79999999999995) rotate(-90)" font-size="9.3" text-anchor="middle" font-style="normal" fill="#222" stroke="#222" stroke-width="0.25">Relative TA</text>
<line x1="194.6" y1="280.8" x2="194.6" y2="295.3" stroke="#111" stroke-width="0.85" />
<line x1="189.6" y1="288.1" x2="199.6" y2="288.1" stroke="#111" stroke-width="0.85" />
<line x1="191.79999999999998" y1="280.8" x2="197.4" y2="280.8" stroke="#111" stroke-width="0.85" />
<line x1="191.79999999999998" y1="295.3" x2="197.4" y2="295.3" stroke="#111" stroke-width="0.85" />
<line x1="210.4" y1="309.5" x2="210.4" y2="324.1" stroke="#111" stroke-width="0.85" />
<line x1="205.4" y1="316.6" x2="215.4" y2="316.6" stroke="#111" stroke-width="0.85" />
<line x1="207.6" y1="309.5" x2="213.20000000000002" y2="309.5" stroke="#111" stroke-width="0.85" />
<line x1="207.6" y1="324.1" x2="213.20000000000002" y2="324.1" stroke="#111" stroke-width="0.85" />
<line x1="225.4" y1="293.5" x2="225.4" y2="311.5" stroke="#111" stroke-width="0.85" />
<line x1="220.4" y1="302.8" x2="230.4" y2="302.8" stroke="#111" stroke-width="0.85" />
<line x1="222.6" y1="293.5" x2="228.20000000000002" y2="293.5" stroke="#111" stroke-width="0.85" />
<line x1="222.6" y1="311.5" x2="228.20000000000002" y2="311.5" stroke="#111" stroke-width="0.85" />
<line x1="240.6" y1="327.2" x2="240.6" y2="346.0" stroke="#111" stroke-width="0.85" />
<line x1="235.6" y1="337.8" x2="245.6" y2="337.8" stroke="#111" stroke-width="0.85" />
<line x1="237.79999999999998" y1="327.2" x2="243.4" y2="327.2" stroke="#111" stroke-width="0.85" />
<line x1="237.79999999999998" y1="346.0" x2="243.4" y2="346.0" stroke="#111" stroke-width="0.85" />
<line x1="256.5" y1="310.0" x2="256.5" y2="324.5" stroke="#111" stroke-width="0.85" />
<line x1="251.5" y1="317.6" x2="261.5" y2="317.6" stroke="#111" stroke-width="0.85" />
<line x1="253.7" y1="310.0" x2="259.3" y2="310.0" stroke="#111" stroke-width="0.85" />
<line x1="253.7" y1="324.5" x2="259.3" y2="324.5" stroke="#111" stroke-width="0.85" />
<circle cx="194.50" cy="275.10" r="2.05" fill="#c9c9c9" stroke="#111" stroke-width="0.8"/>
<circle cx="194.50" cy="282.30" r="2.05" fill="#c9c9c9" stroke="#111" stroke-width="0.8"/>
<circle cx="191.90" cy="289.50" r="2.05" fill="#c9c9c9" stroke="#111" stroke-width="0.8"/>
<circle cx="194.70" cy="292.00" r="2.05" fill="#c9c9c9" stroke="#111" stroke-width="0.8"/>
<circle cx="198.00" cy="292.40" r="2.05" fill="#c9c9c9" stroke="#111" stroke-width="0.8"/>
<circle cx="191.90" cy="296.70" r="2.05" fill="#c9c9c9" stroke="#111" stroke-width="0.8"/>
<circle cx="210.10" cy="305.70" r="2.05" fill="#a7b3e0" stroke="#111" stroke-width="0.8"/>
<circle cx="208.90" cy="312.70" r="2.05" fill="#a7b3e0" stroke="#111" stroke-width="0.8"/>
<circle cx="206.80" cy="315.20" r="2.05" fill="#a7b3e0" stroke="#111" stroke-width="0.8"/>
<circle cx="208.90" cy="317.30" r="2.05" fill="#a7b3e0" stroke="#111" stroke-width="0.8"/>
<circle cx="211.40" cy="317.70" r="2.05" fill="#a7b3e0" stroke="#111" stroke-width="0.8"/>
<circle cx="213.90" cy="317.70" r="2.05" fill="#a7b3e0" stroke="#111" stroke-width="0.8"/>
<circle cx="210.10" cy="330.00" r="2.05" fill="#a7b3e0" stroke="#111" stroke-width="0.8"/>
<circle cx="222.50" cy="292.90" r="2.05" fill="#f4c0aa" stroke="#111" stroke-width="0.8"/>
<circle cx="228.60" cy="294.10" r="2.05" fill="#f4c0aa" stroke="#111" stroke-width="0.8"/>
<circle cx="222.50" cy="297.70" r="2.05" fill="#f4c0aa" stroke="#111" stroke-width="0.8"/>
<circle cx="228.60" cy="302.10" r="2.05" fill="#f4c0aa" stroke="#111" stroke-width="0.8"/>
<circle cx="222.50" cy="304.20" r="2.05" fill="#f4c0aa" stroke="#111" stroke-width="0.8"/>
<circle cx="222.50" cy="312.20" r="2.05" fill="#f4c0aa" stroke="#111" stroke-width="0.8"/>
<circle cx="228.60" cy="311.50" r="2.05" fill="#f4c0aa" stroke="#111" stroke-width="0.8"/>
<circle cx="240.90" cy="320.70" r="2.05" fill="#b1abd9" stroke="#111" stroke-width="0.8"/>
<circle cx="237.90" cy="330.20" r="2.05" fill="#b1abd9" stroke="#111" stroke-width="0.8"/>
<circle cx="243.80" cy="328.90" r="2.05" fill="#b1abd9" stroke="#111" stroke-width="0.8"/>
<circle cx="237.90" cy="336.10" r="2.05" fill="#b1abd9" stroke="#111" stroke-width="0.8"/>
<circle cx="243.80" cy="337.40" r="2.05" fill="#b1abd9" stroke="#111" stroke-width="0.8"/>
<circle cx="237.90" cy="340.30" r="2.05" fill="#b1abd9" stroke="#111" stroke-width="0.8"/>
<circle cx="237.90" cy="346.60" r="2.05" fill="#b1abd9" stroke="#111" stroke-width="0.8"/>
<circle cx="243.80" cy="345.40" r="2.05" fill="#b1abd9" stroke="#111" stroke-width="0.8"/>
<circle cx="253.10" cy="307.40" r="2.05" fill="#f1b0bd" stroke="#111" stroke-width="0.8"/>
<circle cx="256.40" cy="310.10" r="2.05" fill="#f1b0bd" stroke="#111" stroke-width="0.8"/>
<circle cx="253.50" cy="313.10" r="2.05" fill="#f1b0bd" stroke="#111" stroke-width="0.8"/>
<circle cx="259.80" cy="313.30" r="2.05" fill="#f1b0bd" stroke="#111" stroke-width="0.8"/>
<circle cx="259.40" cy="317.70" r="2.05" fill="#f1b0bd" stroke="#111" stroke-width="0.8"/>
<circle cx="256.40" cy="321.50" r="2.05" fill="#f1b0bd" stroke="#111" stroke-width="0.8"/>
<circle cx="257.70" cy="326.60" r="2.05" fill="#f1b0bd" stroke="#111" stroke-width="0.8"/>
<circle cx="254.60" cy="328.30" r="2.05" fill="#f1b0bd" stroke="#111" stroke-width="0.8"/>
<polyline points="210.4,238.20000000000002 210.4,233.9 240.6,233.9 240.6,238.20000000000002" fill="none" stroke="#5b6b7b" stroke-width="0.9"/>
<text x="225.5" y="231.2" font-size="6.6" text-anchor="middle" font-weight="normal" font-style="normal" fill="#3a3a3a" stroke="#3a3a3a" stroke-width="0.1" >p=0.0004</text>
<polyline points="194.6,252.9 194.6,248.6 225.4,248.6 225.4,252.9" fill="none" stroke="#5b6b7b" stroke-width="0.9"/>
<text x="210.0" y="246.2" font-size="6.6" text-anchor="middle" font-weight="normal" font-style="normal" fill="#3a3a3a" stroke="#3a3a3a" stroke-width="0.1" >p=0.0244</text>
<polyline points="210.4,267.2 210.4,262.9 225.4,262.9 225.4,267.2" fill="none" stroke="#5b6b7b" stroke-width="0.9"/>
<text x="217.9" y="260.5" font-size="6.6" text-anchor="middle" font-weight="normal" font-style="normal" fill="#3a3a3a" stroke="#3a3a3a" stroke-width="0.1" >p=0.0152</text>
<polyline points="240.6,267.2 240.6,262.9 256.5,262.9 256.5,267.2" fill="none" stroke="#5b6b7b" stroke-width="0.9"/>
<text x="248.55" y="260.5" font-size="6.6" text-anchor="middle" font-weight="normal" font-style="normal" fill="#3a3a3a" stroke="#3a3a3a" stroke-width="0.1" >p=0.0004</text>
<text transform="translate(198.79999999999998,378.4) rotate(-45)" font-size="9.3" text-anchor="end" font-style="normal" fill="#222" stroke="#222" stroke-width="0.25">WT Ctrl</text>
<text transform="translate(214.6,378.4) rotate(-45)" font-size="9.3" text-anchor="end" font-style="normal" fill="#222" stroke="#222" stroke-width="0.25">Vehicle</text>
<text transform="translate(229.6,378.4) rotate(-45)" font-size="9.3" text-anchor="end" font-style="normal" fill="#222" stroke="#222" stroke-width="0.25">Aspirin</text>
<text transform="translate(244.79999999999998,378.4) rotate(-45)" font-size="9.3" text-anchor="end" font-style="normal" fill="#222" stroke="#222" stroke-width="0.25">Chemo</text>
<text transform="translate(260.7,378.4) rotate(-45)" font-size="9.3" text-anchor="end" font-style="normal" fill="#222" stroke="#222" stroke-width="0.25">Combo</text>
<line x1="188.3" y1="403.6" x2="249.4" y2="403.6" stroke="#222" stroke-width="1" />
<text x="219.2" y="414.2" font-size="9.4" text-anchor="middle" font-weight="normal" font-style="normal" fill="#222" stroke="#222" stroke-width="0.25" >TLCS-PP</text>
<line x1="314.2" y1="268.7" x2="314.2" y2="372.2" stroke="#222" stroke-width="1" />
<line x1="314.2" y1="371.7" x2="394.5" y2="371.7" stroke="#222" stroke-width="1" />
<line x1="311.4" y1="269.2" x2="314.2" y2="269.2" stroke="#222" stroke-width="1" />
<text x="309.7" y="271.7" font-size="9" text-anchor="end" font-weight="normal" font-style="normal" fill="#222" stroke="#222" stroke-width="0.25" >1.1</text>
<line x1="311.4" y1="289.7" x2="314.2" y2="289.7" stroke="#222" stroke-width="1" />
<text x="309.7" y="292.2" font-size="9" text-anchor="end" font-weight="normal" font-style="normal" fill="#222" stroke="#222" stroke-width="0.25" >1.0</text>
<line x1="311.4" y1="310.2" x2="314.2" y2="310.2" stroke="#222" stroke-width="1" />
<text x="309.7" y="312.7" font-size="9" text-anchor="end" font-weight="normal" font-style="normal" fill="#222" stroke="#222" stroke-width="0.25" >0.9</text>
<line x1="311.4" y1="330.7" x2="314.2" y2="330.7" stroke="#222" stroke-width="1" />
<text x="309.7" y="333.2" font-size="9" text-anchor="end" font-weight="normal" font-style="normal" fill="#222" stroke="#222" stroke-width="0.25" >0.8</text>
<line x1="311.4" y1="351.2" x2="314.2" y2="351.2" stroke="#222" stroke-width="1" />
<text x="309.7" y="353.7" font-size="9" text-anchor="end" font-weight="normal" font-style="normal" fill="#222" stroke="#222" stroke-width="0.25" >0.7</text>
<line x1="311.4" y1="371.7" x2="314.2" y2="371.7" stroke="#222" stroke-width="1" />
<text x="309.7" y="374.2" font-size="9" text-anchor="end" font-weight="normal" font-style="normal" fill="#222" stroke="#222" stroke-width="0.25" >0.6</text>
<line x1="323.9" y1="371.7" x2="323.9" y2="374.3" stroke="#222" stroke-width="1" />
<line x1="339.3" y1="371.7" x2="339.3" y2="374.3" stroke="#222" stroke-width="1" />
<line x1="354.6" y1="371.7" x2="354.6" y2="374.3" stroke="#222" stroke-width="1" />
<line x1="369.5" y1="371.7" x2="369.5" y2="374.3" stroke="#222" stroke-width="1" />
<line x1="384.6" y1="371.7" x2="384.6" y2="374.3" stroke="#222" stroke-width="1" />
<text transform="translate(288.8,321.84999999999997) rotate(-90)" font-size="9.3" text-anchor="middle" font-style="normal" fill="#222" stroke="#222" stroke-width="0.25">Relative QUAD</text>
<line x1="323.9" y1="287.5" x2="323.9" y2="292.5" stroke="#111" stroke-width="0.85" />
<line x1="318.9" y1="289.8" x2="328.9" y2="289.8" stroke="#111" stroke-width="0.85" />
<line x1="321.09999999999997" y1="287.5" x2="326.7" y2="287.5" stroke="#111" stroke-width="0.85" />
<line x1="321.09999999999997" y1="292.5" x2="326.7" y2="292.5" stroke="#111" stroke-width="0.85" />
<line x1="339.3" y1="313.7" x2="339.3" y2="333.0" stroke="#111" stroke-width="0.85" />
<line x1="334.3" y1="323.6" x2="344.3" y2="323.6" stroke="#111" stroke-width="0.85" />
<line x1="336.5" y1="313.7" x2="342.1" y2="313.7" stroke="#111" stroke-width="0.85" />
<line x1="336.5" y1="333.0" x2="342.1" y2="333.0" stroke="#111" stroke-width="0.85" />
<line x1="354.6" y1="294.6" x2="354.6" y2="316.0" stroke="#111" stroke-width="0.85" />
<line x1="349.6" y1="304.2" x2="359.6" y2="304.2" stroke="#111" stroke-width="0.85" />
<line x1="351.8" y1="294.6" x2="357.40000000000003" y2="294.6" stroke="#111" stroke-width="0.85" />
<line x1="351.8" y1="316.0" x2="357.40000000000003" y2="316.0" stroke="#111" stroke-width="0.85" />
<line x1="369.5" y1="347.5" x2="369.5" y2="355.5" stroke="#111" stroke-width="0.85" />
<line x1="364.5" y1="351.5" x2="374.5" y2="351.5" stroke="#111" stroke-width="0.85" />
<line x1="366.7" y1="347.5" x2="372.3" y2="347.5" stroke="#111" stroke-width="0.85" />
<line x1="366.7" y1="355.5" x2="372.3" y2="355.5" stroke="#111" stroke-width="0.85" />
<line x1="384.6" y1="316.5" x2="384.6" y2="334.0" stroke="#111" stroke-width="0.85" />
<line x1="379.6" y1="325.5" x2="389.6" y2="325.5" stroke="#111" stroke-width="0.85" />
<line x1="381.8" y1="316.5" x2="387.40000000000003" y2="316.5" stroke="#111" stroke-width="0.85" />
<line x1="381.8" y1="334.0" x2="387.40000000000003" y2="334.0" stroke="#111" stroke-width="0.85" />
<circle cx="323.70" cy="286.00" r="2.05" fill="#c9c9c9" stroke="#111" stroke-width="0.8"/>
<circle cx="327.30" cy="286.30" r="2.05" fill="#c9c9c9" stroke="#111" stroke-width="0.8"/>
<circle cx="320.80" cy="289.20" r="2.05" fill="#c9c9c9" stroke="#111" stroke-width="0.8"/>
<circle cx="324.20" cy="291.60" r="2.05" fill="#c9c9c9" stroke="#111" stroke-width="0.8"/>
<circle cx="327.30" cy="292.30" r="2.05" fill="#c9c9c9" stroke="#111" stroke-width="0.8"/>
<circle cx="321.00" cy="294.50" r="2.05" fill="#c9c9c9" stroke="#111" stroke-width="0.8"/>
<circle cx="339.10" cy="306.00" r="2.05" fill="#a7b3e0" stroke="#111" stroke-width="0.8"/>
<circle cx="339.10" cy="313.70" r="2.05" fill="#a7b3e0" stroke="#111" stroke-width="0.8"/>
<circle cx="339.10" cy="322.30" r="2.05" fill="#a7b3e0" stroke="#111" stroke-width="0.8"/>
<circle cx="342.00" cy="326.90" r="2.05" fill="#a7b3e0" stroke="#111" stroke-width="0.8"/>
<circle cx="336.20" cy="330.00" r="2.05" fill="#a7b3e0" stroke="#111" stroke-width="0.8"/>
<circle cx="336.20" cy="334.10" r="2.05" fill="#a7b3e0" stroke="#111" stroke-width="0.8"/>
<circle cx="342.50" cy="333.70" r="2.05" fill="#a7b3e0" stroke="#111" stroke-width="0.8"/>
<circle cx="351.30" cy="291.70" r="2.05" fill="#f4c0aa" stroke="#111" stroke-width="0.8"/>
<circle cx="357.50" cy="291.90" r="2.05" fill="#f4c0aa" stroke="#111" stroke-width="0.8"/>
<circle cx="354.40" cy="294.60" r="2.05" fill="#f4c0aa" stroke="#111" stroke-width="0.8"/>
<circle cx="354.40" cy="306.20" r="2.05" fill="#f4c0aa" stroke="#111" stroke-width="0.8"/>
<circle cx="352.20" cy="310.20" r="2.05" fill="#f4c0aa" stroke="#111" stroke-width="0.8"/>
<circle cx="356.30" cy="311.40" r="2.05" fill="#f4c0aa" stroke="#111" stroke-width="0.8"/>
<circle cx="354.40" cy="322.00" r="2.05" fill="#f4c0aa" stroke="#111" stroke-width="0.8"/>
<circle cx="369.40" cy="341.50" r="2.05" fill="#b1abd9" stroke="#111" stroke-width="0.8"/>
<circle cx="366.10" cy="344.00" r="2.05" fill="#b1abd9" stroke="#111" stroke-width="0.8"/>
<circle cx="372.30" cy="348.00" r="2.05" fill="#b1abd9" stroke="#111" stroke-width="0.8"/>
<circle cx="366.10" cy="351.20" r="2.05" fill="#b1abd9" stroke="#111" stroke-width="0.8"/>
<circle cx="372.30" cy="352.20" r="2.05" fill="#b1abd9" stroke="#111" stroke-width="0.8"/>
<circle cx="369.40" cy="355.20" r="2.05" fill="#b1abd9" stroke="#111" stroke-width="0.8"/>
<circle cx="372.60" cy="356.30" r="2.05" fill="#b1abd9" stroke="#111" stroke-width="0.8"/>
<circle cx="366.50" cy="359.50" r="2.05" fill="#b1abd9" stroke="#111" stroke-width="0.8"/>
<circle cx="384.40" cy="306.00" r="2.05" fill="#f1b0bd" stroke="#111" stroke-width="0.8"/>
<circle cx="384.40" cy="317.30" r="2.05" fill="#f1b0bd" stroke="#111" stroke-width="0.8"/>
<circle cx="383.70" cy="327.90" r="2.05" fill="#f1b0bd" stroke="#111" stroke-width="0.8"/>
<circle cx="388.00" cy="328.10" r="2.05" fill="#f1b0bd" stroke="#111" stroke-width="0.8"/>
<circle cx="381.30" cy="330.80" r="2.05" fill="#f1b0bd" stroke="#111" stroke-width="0.8"/>
<circle cx="384.40" cy="335.80" r="2.05" fill="#f1b0bd" stroke="#111" stroke-width="0.8"/>
<polyline points="339.3,249.20000000000002 339.3,244.9 369.5,244.9 369.5,249.20000000000002" fill="none" stroke="#5b6b7b" stroke-width="0.9"/>
<text x="354.4" y="242.5" font-size="6.6" text-anchor="middle" font-weight="normal" font-style="normal" fill="#3a3a3a" stroke="#3a3a3a" stroke-width="0.1" >p&lt;0.0001</text>
<polyline points="323.9,263.7 323.9,259.4 354.6,259.4 354.6,263.7" fill="none" stroke="#5b6b7b" stroke-width="0.9"/>
<text x="339.25" y="257.2" font-size="6.6" text-anchor="middle" font-weight="normal" font-style="normal" fill="#3a3a3a" stroke="#3a3a3a" stroke-width="0.1" >p=0.0495</text>
<polyline points="339.3,277.8 339.3,273.5 354.6,273.5 354.6,277.8" fill="none" stroke="#5b6b7b" stroke-width="0.9"/>
<text x="346.95000000000005" y="271.5" font-size="6.6" text-anchor="middle" font-weight="normal" font-style="normal" fill="#3a3a3a" stroke="#3a3a3a" stroke-width="0.1" >p=0.0020</text>
<polyline points="369.5,277.8 369.5,273.5 384.6,273.5 384.6,277.8" fill="none" stroke="#5b6b7b" stroke-width="0.9"/>
<text x="377.05" y="271.5" font-size="6.6" text-anchor="middle" font-weight="normal" font-style="normal" fill="#3a3a3a" stroke="#3a3a3a" stroke-width="0.1" >p&lt;0.0001</text>
<text transform="translate(328.09999999999997,378.7) rotate(-45)" font-size="9.3" text-anchor="end" font-style="normal" fill="#222" stroke="#222" stroke-width="0.25">WT Ctrl</text>
<text transform="translate(343.5,378.7) rotate(-45)" font-size="9.3" text-anchor="end" font-style="normal" fill="#222" stroke="#222" stroke-width="0.25">Vehicle</text>
<text transform="translate(358.8,378.7) rotate(-45)" font-size="9.3" text-anchor="end" font-style="normal" fill="#222" stroke="#222" stroke-width="0.25">Aspirin</text>
<text transform="translate(373.7,378.7) rotate(-45)" font-size="9.3" text-anchor="end" font-style="normal" fill="#222" stroke="#222" stroke-width="0.25">Chemo</text>
<text transform="translate(388.8,378.7) rotate(-45)" font-size="9.3" text-anchor="end" font-style="normal" fill="#222" stroke="#222" stroke-width="0.25">Combo</text>
<line x1="317.5" y1="403.6" x2="378.5" y2="403.6" stroke="#222" stroke-width="1" />
<text x="348.0" y="414.2" font-size="9.4" text-anchor="middle" font-weight="normal" font-style="normal" fill="#222" stroke="#222" stroke-width="0.25" >TLCS-PP</text>
<line x1="461.2" y1="269.6" x2="461.2" y2="372.3" stroke="#222" stroke-width="1" />
<line x1="461.2" y1="371.8" x2="542.2" y2="371.8" stroke="#222" stroke-width="1" />
<line x1="458.4" y1="270.1" x2="461.2" y2="270.1" stroke="#222" stroke-width="1" />
<text x="456.7" y="272.6" font-size="9" text-anchor="end" font-weight="normal" font-style="normal" fill="#222" stroke="#222" stroke-width="0.25" >1.5</text>
<line x1="458.4" y1="304.0" x2="461.2" y2="304.0" stroke="#222" stroke-width="1" />
<text x="456.7" y="306.5" font-size="9" text-anchor="end" font-weight="normal" font-style="normal" fill="#222" stroke="#222" stroke-width="0.25" >1.0</text>
<line x1="458.4" y1="337.90000000000003" x2="461.2" y2="337.90000000000003" stroke="#222" stroke-width="1" />
<text x="456.7" y="340.40000000000003" font-size="9" text-anchor="end" font-weight="normal" font-style="normal" fill="#222" stroke="#222" stroke-width="0.25" >0.5</text>
<line x1="458.4" y1="371.8" x2="461.2" y2="371.8" stroke="#222" stroke-width="1" />
<text x="456.7" y="374.3" font-size="9" text-anchor="end" font-weight="normal" font-style="normal" fill="#222" stroke="#222" stroke-width="0.25" >0.0</text>
<line x1="471.2" y1="371.8" x2="471.2" y2="374.40000000000003" stroke="#222" stroke-width="1" />
<line x1="486.4" y1="371.8" x2="486.4" y2="374.40000000000003" stroke="#222" stroke-width="1" />
<line x1="501.6" y1="371.8" x2="501.6" y2="374.40000000000003" stroke="#222" stroke-width="1" />
<line x1="516.8" y1="371.8" x2="516.8" y2="374.40000000000003" stroke="#222" stroke-width="1" />
<line x1="532.2" y1="371.8" x2="532.2" y2="374.40000000000003" stroke="#222" stroke-width="1" />
<text transform="translate(436.1,321.55000000000007) rotate(-90)" font-size="9.3" text-anchor="middle" font-style="normal" fill="#222" stroke="#222" stroke-width="0.25">Relative WAT</text>
<line x1="471.2" y1="292.6" x2="471.2" y2="310.5" stroke="#111" stroke-width="0.85" />
<line x1="466.2" y1="303.8" x2="476.2" y2="303.8" stroke="#111" stroke-width="0.85" />
<line x1="468.4" y1="292.6" x2="474.0" y2="292.6" stroke="#111" stroke-width="0.85" />
<line x1="468.4" y1="310.5" x2="474.0" y2="310.5" stroke="#111" stroke-width="0.85" />
<line x1="486.4" y1="343.5" x2="486.4" y2="352.5" stroke="#111" stroke-width="0.85" />
<line x1="481.4" y1="347.6" x2="491.4" y2="347.6" stroke="#111" stroke-width="0.85" />
<line x1="483.59999999999997" y1="343.5" x2="489.2" y2="343.5" stroke="#111" stroke-width="0.85" />
<line x1="483.59999999999997" y1="352.5" x2="489.2" y2="352.5" stroke="#111" stroke-width="0.85" />
<line x1="501.6" y1="322.7" x2="501.6" y2="340.0" stroke="#111" stroke-width="0.85" />
<line x1="496.6" y1="332.0" x2="506.6" y2="332.0" stroke="#111" stroke-width="0.85" />
<line x1="498.8" y1="322.7" x2="504.40000000000003" y2="322.7" stroke="#111" stroke-width="0.85" />
<line x1="498.8" y1="340.0" x2="504.40000000000003" y2="340.0" stroke="#111" stroke-width="0.85" />
<line x1="516.8" y1="362.0" x2="516.8" y2="368.0" stroke="#111" stroke-width="0.85" />
<line x1="511.79999999999995" y1="365.3" x2="521.8" y2="365.3" stroke="#111" stroke-width="0.85" />
<line x1="514.0" y1="362.0" x2="519.5999999999999" y2="362.0" stroke="#111" stroke-width="0.85" />
<line x1="514.0" y1="368.0" x2="519.5999999999999" y2="368.0" stroke="#111" stroke-width="0.85" />
<line x1="532.2" y1="341.4" x2="532.2" y2="352.0" stroke="#111" stroke-width="0.85" />
<line x1="527.2" y1="347.3" x2="537.2" y2="347.3" stroke="#111" stroke-width="0.85" />
<line x1="529.4000000000001" y1="341.4" x2="535.0" y2="341.4" stroke="#111" stroke-width="0.85" />
<line x1="529.4000000000001" y1="352.0" x2="535.0" y2="352.0" stroke="#111" stroke-width="0.85" />
<circle cx="468.60" cy="289.90" r="2.05" fill="#c9c9c9" stroke="#111" stroke-width="0.8"/>
<circle cx="471.80" cy="292.60" r="2.05" fill="#c9c9c9" stroke="#111" stroke-width="0.8"/>
<circle cx="468.10" cy="307.40" r="2.05" fill="#c9c9c9" stroke="#111" stroke-width="0.8"/>
<circle cx="468.10" cy="311.50" r="2.05" fill="#c9c9c9" stroke="#111" stroke-width="0.8"/>
<circle cx="470.60" cy="311.00" r="2.05" fill="#c9c9c9" stroke="#111" stroke-width="0.8"/>
<circle cx="474.30" cy="311.00" r="2.05" fill="#c9c9c9" stroke="#111" stroke-width="0.8"/>
<circle cx="486.50" cy="339.80" r="2.05" fill="#a7b3e0" stroke="#111" stroke-width="0.8"/>
<circle cx="489.40" cy="344.10" r="2.05" fill="#a7b3e0" stroke="#111" stroke-width="0.8"/>
<circle cx="483.40" cy="347.00" r="2.05" fill="#a7b3e0" stroke="#111" stroke-width="0.8"/>
<circle cx="487.40" cy="347.60" r="2.05" fill="#a7b3e0" stroke="#111" stroke-width="0.8"/>
<circle cx="489.40" cy="350.80" r="2.05" fill="#a7b3e0" stroke="#111" stroke-width="0.8"/>
<circle cx="486.50" cy="355.10" r="2.05" fill="#a7b3e0" stroke="#111" stroke-width="0.8"/>
<circle cx="501.70" cy="316.60" r="2.05" fill="#f4c0aa" stroke="#111" stroke-width="0.8"/>
<circle cx="501.70" cy="322.70" r="2.05" fill="#f4c0aa" stroke="#111" stroke-width="0.8"/>
<circle cx="501.70" cy="330.10" r="2.05" fill="#f4c0aa" stroke="#111" stroke-width="0.8"/>
<circle cx="500.60" cy="336.20" r="2.05" fill="#f4c0aa" stroke="#111" stroke-width="0.8"/>
<circle cx="505.10" cy="337.50" r="2.05" fill="#f4c0aa" stroke="#111" stroke-width="0.8"/>
<circle cx="502.70" cy="338.30" r="2.05" fill="#f4c0aa" stroke="#111" stroke-width="0.8"/>
<circle cx="499.00" cy="340.30" r="2.05" fill="#f4c0aa" stroke="#111" stroke-width="0.8"/>
<circle cx="516.60" cy="360.00" r="2.05" fill="#b1abd9" stroke="#111" stroke-width="0.8"/>
<circle cx="516.60" cy="362.50" r="2.05" fill="#b1abd9" stroke="#111" stroke-width="0.8"/>
<circle cx="513.30" cy="366.50" r="2.05" fill="#b1abd9" stroke="#111" stroke-width="0.8"/>
<circle cx="517.10" cy="366.80" r="2.05" fill="#b1abd9" stroke="#111" stroke-width="0.8"/>
<circle cx="519.80" cy="369.40" r="2.05" fill="#b1abd9" stroke="#111" stroke-width="0.8"/>
<circle cx="531.70" cy="336.60" r="2.05" fill="#f1b0bd" stroke="#111" stroke-width="0.8"/>
<circle cx="531.70" cy="341.40" r="2.05" fill="#f1b0bd" stroke="#111" stroke-width="0.8"/>
<circle cx="530.30" cy="345.20" r="2.05" fill="#f1b0bd" stroke="#111" stroke-width="0.8"/>
<circle cx="533.90" cy="345.30" r="2.05" fill="#f1b0bd" stroke="#111" stroke-width="0.8"/>
<circle cx="528.90" cy="348.10" r="2.05" fill="#f1b0bd" stroke="#111" stroke-width="0.8"/>
<circle cx="532.10" cy="348.10" r="2.05" fill="#f1b0bd" stroke="#111" stroke-width="0.8"/>
<circle cx="535.00" cy="348.40" r="2.05" fill="#f1b0bd" stroke="#111" stroke-width="0.8"/>
<circle cx="531.70" cy="355.60" r="2.05" fill="#f1b0bd" stroke="#111" stroke-width="0.8"/>
<polyline points="486.4,253.70000000000002 486.4,249.4 516.8,249.4 516.8,253.70000000000002" fill="none" stroke="#5b6b7b" stroke-width="0.9"/>
<text x="501.59999999999997" y="247.0" font-size="6.6" text-anchor="middle" font-weight="normal" font-style="normal" fill="#3a3a3a" stroke="#3a3a3a" stroke-width="0.1" >p=0.0001</text>
<polyline points="471.2,268.2 471.2,263.9 501.6,263.9 501.6,268.2" fill="none" stroke="#5b6b7b" stroke-width="0.9"/>
<text x="486.4" y="261.8" font-size="6.6" text-anchor="middle" font-weight="normal" font-style="normal" fill="#3a3a3a" stroke="#3a3a3a" stroke-width="0.1" >p&lt;0.0001</text>
<polyline points="486.4,282.90000000000003 486.4,278.6 501.6,278.6 501.6,282.90000000000003" fill="none" stroke="#5b6b7b" stroke-width="0.9"/>
<text x="494.0" y="275.8" font-size="6.6" text-anchor="middle" font-weight="normal" font-style="normal" fill="#3a3a3a" stroke="#3a3a3a" stroke-width="0.1" >p=0.0013</text>
<polyline points="516.8,282.90000000000003 516.8,278.6 532.2,278.6 532.2,282.90000000000003" fill="none" stroke="#5b6b7b" stroke-width="0.9"/>
<text x="524.5" y="275.8" font-size="6.6" text-anchor="middle" font-weight="normal" font-style="normal" fill="#3a3a3a" stroke="#3a3a3a" stroke-width="0.1" >p&lt;0.0001</text>
<text transform="translate(475.4,378.8) rotate(-45)" font-size="9.3" text-anchor="end" font-style="normal" fill="#222" stroke="#222" stroke-width="0.25">WT Ctrl</text>
<text transform="translate(490.59999999999997,378.8) rotate(-45)" font-size="9.3" text-anchor="end" font-style="normal" fill="#222" stroke="#222" stroke-width="0.25">Vehicle</text>
<text transform="translate(505.8,378.8) rotate(-45)" font-size="9.3" text-anchor="end" font-style="normal" fill="#222" stroke="#222" stroke-width="0.25">Aspirin</text>
<text transform="translate(521.0,378.8) rotate(-45)" font-size="9.3" text-anchor="end" font-style="normal" fill="#222" stroke="#222" stroke-width="0.25">Chemo</text>
<text transform="translate(536.4000000000001,378.8) rotate(-45)" font-size="9.3" text-anchor="end" font-style="normal" fill="#222" stroke="#222" stroke-width="0.25">Combo</text>
<line x1="463.9" y1="403.4" x2="525.7" y2="403.4" stroke="#222" stroke-width="1" />
<text x="494.8" y="414.2" font-size="9.4" text-anchor="middle" font-weight="normal" font-style="normal" fill="#222" stroke="#222" stroke-width="0.25" >TLCS-PP</text>
<line x1="604.3" y1="263.8" x2="604.3" y2="366.7" stroke="#222" stroke-width="1" />
<line x1="604.3" y1="366.2" x2="681.5" y2="366.2" stroke="#222" stroke-width="1" />
<line x1="601.5" y1="366.2" x2="604.3" y2="366.2" stroke="#222" stroke-width="1" />
<text x="599.5999999999999" y="369.09999999999997" font-size="9" text-anchor="end" font-weight="normal" font-style="normal" fill="#222" stroke="#222" stroke-width="0.25" >0</text>
<line x1="601.5" y1="340.71999999999997" x2="604.3" y2="340.71999999999997" stroke="#222" stroke-width="1" />
<text x="599.5999999999999" y="343.61999999999995" font-size="9" text-anchor="end" font-weight="normal" font-style="normal" fill="#222" stroke="#222" stroke-width="0.25" >2</text>
<line x1="601.5" y1="315.24" x2="604.3" y2="315.24" stroke="#222" stroke-width="1" />
<text x="599.5999999999999" y="318.14" font-size="9" text-anchor="end" font-weight="normal" font-style="normal" fill="#222" stroke="#222" stroke-width="0.25" >4</text>
<line x1="601.5" y1="289.76" x2="604.3" y2="289.76" stroke="#222" stroke-width="1" />
<text x="599.5999999999999" y="292.65999999999997" font-size="9" text-anchor="end" font-weight="normal" font-style="normal" fill="#222" stroke="#222" stroke-width="0.25" >6</text>
<line x1="601.5" y1="264.28" x2="604.3" y2="264.28" stroke="#222" stroke-width="1" />
<text x="599.5999999999999" y="267.17999999999995" font-size="9" text-anchor="end" font-weight="normal" font-style="normal" fill="#222" stroke="#222" stroke-width="0.25" >8</text>
<text transform="translate(586.8,315) rotate(-90)" font-size="9" text-anchor="middle" font-style="normal" fill="#222" stroke="#222" stroke-width="0.25">Relative mRNA level</text>
<text x="644.5" y="247.3" font-size="9" text-anchor="middle" font-weight="normal" font-style="italic" fill="#222" stroke="#222" stroke-width="0.25" >Atrogin-1</text>
<rect x="608.8" y="353.2" width="10.4" height="13.0" fill="#cdcdcd"/>
<line x1="614.0" y1="366.2" x2="614.0" y2="368.8" stroke="#222" stroke-width="1" />
<rect x="624.3" y="321.1" width="10.4" height="45.099999999999966" fill="#aeb7e0"/>
<line x1="629.5" y1="366.2" x2="629.5" y2="368.8" stroke="#222" stroke-width="1" />
<rect x="639.6999999999999" y="344.7" width="10.4" height="21.5" fill="#f2c6b4"/>
<line x1="644.9" y1="366.2" x2="644.9" y2="368.8" stroke="#222" stroke-width="1" />
<rect x="654.6999999999999" y="303.6" width="10.4" height="62.599999999999966" fill="#b4acd6"/>
<line x1="659.9" y1="366.2" x2="659.9" y2="368.8" stroke="#222" stroke-width="1" />
<rect x="669.9" y="327.2" width="10.4" height="39.0" fill="#e6aabb"/>
<line x1="675.1" y1="366.2" x2="675.1" y2="368.8" stroke="#222" stroke-width="1" />
<line x1="614.0" y1="347.0" x2="614.0" y2="358.2" stroke="#222" stroke-width="0.9" />
<line x1="611.6" y1="347.0" x2="616.4" y2="347.0" stroke="#222" stroke-width="0.9" />
<line x1="611.6" y1="358.2" x2="616.4" y2="358.2" stroke="#222" stroke-width="0.9" />
<line x1="629.5" y1="308.5" x2="629.5" y2="333.4" stroke="#222" stroke-width="0.9" />
<line x1="627.1" y1="308.5" x2="631.9" y2="308.5" stroke="#222" stroke-width="0.9" />
<line x1="627.1" y1="333.4" x2="631.9" y2="333.4" stroke="#222" stroke-width="0.9" />
<line x1="644.9" y1="332.9" x2="644.9" y2="356.0" stroke="#222" stroke-width="0.9" />
<line x1="642.5" y1="332.9" x2="647.3" y2="332.9" stroke="#222" stroke-width="0.9" />
<line x1="642.5" y1="356.0" x2="647.3" y2="356.0" stroke="#222" stroke-width="0.9" />
<line x1="659.9" y1="291.5" x2="659.9" y2="315.1" stroke="#222" stroke-width="0.9" />
<line x1="657.5" y1="291.5" x2="662.3" y2="291.5" stroke="#222" stroke-width="0.9" />
<line x1="657.5" y1="315.1" x2="662.3" y2="315.1" stroke="#222" stroke-width="0.9" />
<line x1="675.1" y1="310.3" x2="675.1" y2="343.3" stroke="#222" stroke-width="0.9" />
<line x1="672.7" y1="310.3" x2="677.5" y2="310.3" stroke="#222" stroke-width="0.9" />
<line x1="672.7" y1="343.3" x2="677.5" y2="343.3" stroke="#222" stroke-width="0.9" />
<circle cx="614.3" cy="343.9" r="1.3" fill="#fff" stroke="#222" stroke-width="0.7"/>
<circle cx="612.6" cy="353.2" r="1.3" fill="#fff" stroke="#222" stroke-width="0.7"/>
<circle cx="616.0" cy="352.3" r="1.3" fill="#fff" stroke="#222" stroke-width="0.7"/>
<circle cx="614.3" cy="355.7" r="1.3" fill="#fff" stroke="#222" stroke-width="0.7"/>
<circle cx="612.6" cy="358.2" r="1.3" fill="#fff" stroke="#222" stroke-width="0.7"/>
<circle cx="616.0" cy="357.7" r="1.3" fill="#fff" stroke="#222" stroke-width="0.7"/>
<circle cx="629.5" cy="304.3" r="1.3" fill="#fff" stroke="#222" stroke-width="0.7"/>
<circle cx="629.5" cy="313.5" r="1.3" fill="#fff" stroke="#222" stroke-width="0.7"/>
<circle cx="629.5" cy="321.6" r="1.3" fill="#fff" stroke="#222" stroke-width="0.7"/>
<circle cx="629.5" cy="327.9" r="1.3" fill="#fff" stroke="#222" stroke-width="0.7"/>
<circle cx="629.5" cy="336.3" r="1.3" fill="#fff" stroke="#222" stroke-width="0.7"/>
<circle cx="644.6" cy="326.2" r="1.3" fill="#fff" stroke="#222" stroke-width="0.7"/>
<circle cx="644.6" cy="339.7" r="1.3" fill="#fff" stroke="#222" stroke-width="0.7"/>
<circle cx="640.4" cy="352.7" r="1.3" fill="#fff" stroke="#222" stroke-width="0.7"/>
<circle cx="644.6" cy="352.7" r="1.3" fill="#fff" stroke="#222" stroke-width="0.7"/>
<circle cx="648.5" cy="352.7" r="1.3" fill="#fff" stroke="#222" stroke-width="0.7"/>
<circle cx="659.6" cy="289.1" r="1.3" fill="#fff" stroke="#222" stroke-width="0.7"/>
<circle cx="659.6" cy="297.5" r="1.3" fill="#fff" stroke="#222" stroke-width="0.7"/>
<circle cx="658.4" cy="314.4" r="1.3" fill="#fff" stroke="#222" stroke-width="0.7"/>
<circle cx="662.0" cy="315.1" r="1.3" fill="#fff" stroke="#222" stroke-width="0.7"/>
<circle cx="674.1" cy="309.6" r="1.3" fill="#fff" stroke="#222" stroke-width="0.7"/>
<circle cx="674.1" cy="314.4" r="1.3" fill="#fff" stroke="#222" stroke-width="0.7"/>
<circle cx="674.1" cy="324.0" r="1.3" fill="#fff" stroke="#222" stroke-width="0.7"/>
<circle cx="674.1" cy="333.7" r="1.3" fill="#fff" stroke="#222" stroke-width="0.7"/>
<circle cx="674.1" cy="351.3" r="1.3" fill="#fff" stroke="#222" stroke-width="0.7"/>
<polyline points="629.6,298.7 629.6,277.3 644.8,277.3 644.8,321.1" fill="none" stroke="#5b6b7b" stroke-width="0.9"/>
<polyline points="659.7,287.2 659.7,277.3 674.3,277.3 674.3,309.0" fill="none" stroke="#5b6b7b" stroke-width="0.9"/>
<text x="637.2" y="275.2" font-size="6.6" text-anchor="middle" font-weight="normal" font-style="normal" fill="#574a44" stroke="#574a44" stroke-width="0.1" >p=0.0410</text>
<text x="667.2" y="275.2" font-size="6.6" text-anchor="middle" font-weight="normal" font-style="normal" fill="#574a44" stroke="#574a44" stroke-width="0.1" >p=0.0454</text>
<text transform="translate(618.6,375.6) rotate(-45)" font-size="9.3" text-anchor="end" font-style="normal" fill="#222" stroke="#222" stroke-width="0.25">WT Ctrl</text>
<text transform="translate(634.1,375.6) rotate(-45)" font-size="9.3" text-anchor="end" font-style="normal" fill="#222" stroke="#222" stroke-width="0.25">Vehicle</text>
<text transform="translate(649.5,375.6) rotate(-45)" font-size="9.3" text-anchor="end" font-style="normal" fill="#222" stroke="#222" stroke-width="0.25">Aspirin</text>
<text transform="translate(664.5,375.6) rotate(-45)" font-size="9.3" text-anchor="end" font-style="normal" fill="#222" stroke="#222" stroke-width="0.25">Chemo</text>
<text transform="translate(679.7,375.6) rotate(-45)" font-size="9.3" text-anchor="end" font-style="normal" fill="#222" stroke="#222" stroke-width="0.25">Combo</text>
<line x1="604.4" y1="402.6" x2="665.7" y2="402.6" stroke="#222" stroke-width="1" />
<text x="635.5" y="413.6" font-size="9.4" text-anchor="middle" font-weight="normal" font-style="normal" fill="#222" stroke="#222" stroke-width="0.25" >TLCS-PP</text>
</svg>
</body></html>
